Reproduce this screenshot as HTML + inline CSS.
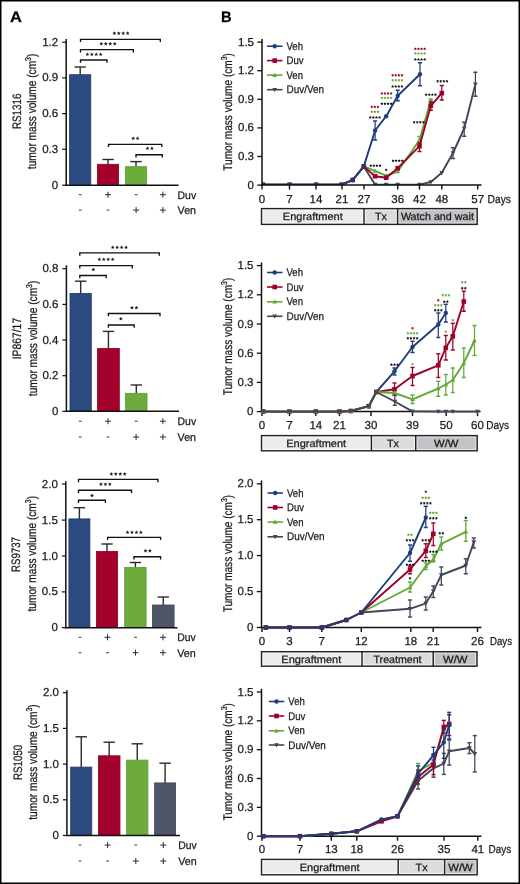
<!DOCTYPE html>
<html><head><meta charset="utf-8"><style>
html,body{margin:0;padding:0;background:#fff;}
body{width:520px;height:884px;overflow:hidden;}
svg{display:block;font-family:"Liberation Sans", sans-serif;will-change:transform;text-rendering:geometricPrecision;}
text{stroke:#1a1a1a;stroke-width:0.25px;paint-order:stroke;}
</style></head><body>
<svg width="520" height="884" viewBox="0 0 520 884">
<defs><path id="sa" d="M0.00,-2.25 L0.56,-0.97 L1.95,-0.83 L0.90,0.09 L1.20,1.46 L0.00,0.75 L-1.20,1.46 L-0.90,0.09 L-1.95,-0.83 L-0.56,-0.97 Z"/><path id="sb" d="M0.00,-1.30 L0.50,-0.39 L1.52,-0.19 L0.81,0.56 L0.94,1.59 L0.00,1.15 L-0.94,1.59 L-0.81,0.56 L-1.52,-0.19 L-0.50,-0.39 Z"/></defs>
<rect x="0" y="0" width="520" height="884" fill="#fff"/>
<text x="10.1" y="22" font-size="15.2" font-weight="bold" fill="#000" textLength="11.9" lengthAdjust="spacingAndGlyphs">A</text>
<text x="221.1" y="21.5" font-size="15.1" font-weight="bold" fill="#000" textLength="10.6" lengthAdjust="spacingAndGlyphs">B</text>
<line x1="66.2" y1="39" x2="66.2" y2="185.8" stroke="#111" stroke-width="1.5"/>
<line x1="62.2" y1="42.2" x2="66.2" y2="42.2" stroke="#111" stroke-width="1.2"/>
<text x="58.2" y="45.7" font-size="11.5" text-anchor="end" fill="#1a1a1a" font-weight="normal">1.2</text>
<line x1="62.2" y1="77.9" x2="66.2" y2="77.9" stroke="#111" stroke-width="1.2"/>
<text x="58.2" y="81.4" font-size="11.5" text-anchor="end" fill="#1a1a1a" font-weight="normal">0.9</text>
<line x1="62.2" y1="113.6" x2="66.2" y2="113.6" stroke="#111" stroke-width="1.2"/>
<text x="58.2" y="117.1" font-size="11.5" text-anchor="end" fill="#1a1a1a" font-weight="normal">0.6</text>
<line x1="62.2" y1="149.3" x2="66.2" y2="149.3" stroke="#111" stroke-width="1.2"/>
<text x="58.2" y="152.8" font-size="11.5" text-anchor="end" fill="#1a1a1a" font-weight="normal">0.3</text>
<line x1="62.2" y1="185.2" x2="66.2" y2="185.2" stroke="#111" stroke-width="1.2"/>
<text x="58.2" y="188.7" font-size="11.5" text-anchor="end" fill="#1a1a1a" font-weight="normal">0</text>
<line x1="80.2" y1="67" x2="80.2" y2="74.8" stroke="#2a2a2a" stroke-width="1.4"/>
<line x1="74.5" y1="67" x2="85.9" y2="67" stroke="#2a2a2a" stroke-width="1.4"/>
<rect x="69.6" y="74.7" width="21.2" height="110.1" fill="#2b4a80" stroke="#1f3a6a" stroke-width="0.8"/>
<line x1="108.05" y1="159.5" x2="108.05" y2="164.4" stroke="#2a2a2a" stroke-width="1.4"/>
<line x1="102.35" y1="159.5" x2="113.75" y2="159.5" stroke="#2a2a2a" stroke-width="1.4"/>
<rect x="97.5" y="164.3" width="21.1" height="20.5" fill="#a3002c" stroke="#8a0024" stroke-width="0.8"/>
<line x1="136" y1="161.6" x2="136" y2="166.8" stroke="#2a2a2a" stroke-width="1.4"/>
<line x1="130.3" y1="161.6" x2="141.7" y2="161.6" stroke="#2a2a2a" stroke-width="1.4"/>
<rect x="125.4" y="166.7" width="21.2" height="18.1" fill="#6cab3c" stroke="#5c9a30" stroke-width="0.8"/>
<line x1="65.5" y1="185.2" x2="178.5" y2="185.2" stroke="#111" stroke-width="1.4"/>
<polyline points="80.5,42.1 80.5,39.3 160.3,39.3 160.3,42.1" fill="none" stroke="#111" stroke-width="1.35"/>
<use href="#sa" x="114.33" y="33.5" fill="#1a1a1a"/>
<use href="#sa" x="118.78" y="33.5" fill="#1a1a1a"/>
<use href="#sa" x="123.23" y="33.5" fill="#1a1a1a"/>
<use href="#sa" x="127.68" y="33.5" fill="#1a1a1a"/>
<polyline points="80.5,52.4 80.5,49.6 133.3,49.6 133.3,52.4" fill="none" stroke="#111" stroke-width="1.35"/>
<use href="#sa" x="101.33" y="44" fill="#1a1a1a"/>
<use href="#sa" x="105.78" y="44" fill="#1a1a1a"/>
<use href="#sa" x="110.23" y="44" fill="#1a1a1a"/>
<use href="#sa" x="114.68" y="44" fill="#1a1a1a"/>
<polyline points="80.5,62.8 80.5,60 107,60 107,62.8" fill="none" stroke="#111" stroke-width="1.35"/>
<use href="#sa" x="87.33" y="54.6" fill="#1a1a1a"/>
<use href="#sa" x="91.78" y="54.6" fill="#1a1a1a"/>
<use href="#sa" x="96.23" y="54.6" fill="#1a1a1a"/>
<use href="#sa" x="100.68" y="54.6" fill="#1a1a1a"/>
<polyline points="108.5,147.1 108.5,144.3 161.8,144.3 161.8,147.1" fill="none" stroke="#111" stroke-width="1.35"/>
<use href="#sa" x="133.18" y="138.6" fill="#1a1a1a"/>
<use href="#sa" x="137.62" y="138.6" fill="#1a1a1a"/>
<polyline points="136,157.5 136,154.7 162.3,154.7 162.3,157.5" fill="none" stroke="#111" stroke-width="1.35"/>
<use href="#sa" x="147.47" y="148.6" fill="#1a1a1a"/>
<use href="#sa" x="151.92" y="148.6" fill="#1a1a1a"/>
<line x1="78.8" y1="194.7" x2="81.6" y2="194.7" stroke="#222" stroke-width="0.9"/>
<line x1="78.8" y1="210.1" x2="81.6" y2="210.1" stroke="#222" stroke-width="0.9"/>
<line x1="105" y1="194.7" x2="111" y2="194.7" stroke="#222" stroke-width="0.95"/>
<line x1="108" y1="191.7" x2="108" y2="197.7" stroke="#222" stroke-width="0.95"/>
<line x1="106.6" y1="210.1" x2="109.4" y2="210.1" stroke="#222" stroke-width="0.9"/>
<line x1="134.7" y1="194.7" x2="137.5" y2="194.7" stroke="#222" stroke-width="0.9"/>
<line x1="133.1" y1="210.1" x2="139.1" y2="210.1" stroke="#222" stroke-width="0.95"/>
<line x1="136.1" y1="207.1" x2="136.1" y2="213.1" stroke="#222" stroke-width="0.95"/>
<line x1="159.9" y1="194.7" x2="165.9" y2="194.7" stroke="#222" stroke-width="0.95"/>
<line x1="162.9" y1="191.7" x2="162.9" y2="197.7" stroke="#222" stroke-width="0.95"/>
<line x1="159.9" y1="210.1" x2="165.9" y2="210.1" stroke="#222" stroke-width="0.95"/>
<line x1="162.9" y1="207.1" x2="162.9" y2="213.1" stroke="#222" stroke-width="0.95"/>
<text x="177.6" y="198.7" font-size="11" text-anchor="start" fill="#1a1a1a" font-weight="normal" textLength="18.5" lengthAdjust="spacingAndGlyphs">Duv</text>
<text x="177.6" y="214.1" font-size="11" text-anchor="start" fill="#1a1a1a" font-weight="normal" textLength="18.5" lengthAdjust="spacingAndGlyphs">Ven</text>
<text transform="translate(20.8,111.3) rotate(-90)" font-size="12.2" text-anchor="middle" fill="#1a1a1a" textLength="35.5" lengthAdjust="spacingAndGlyphs">RS1316</text>
<text transform="translate(35.9,111.4) rotate(-90)" font-size="12.5" text-anchor="middle" fill="#1a1a1a" textLength="115.5" lengthAdjust="spacingAndGlyphs">tumor mass volume (cm<tspan font-size="8.6" dy="-4.6">3</tspan><tspan dy="4.6">)</tspan></text>
<line x1="66.4" y1="265.3" x2="66.4" y2="411.9" stroke="#111" stroke-width="1.5"/>
<line x1="62.4" y1="268.7" x2="66.4" y2="268.7" stroke="#111" stroke-width="1.2"/>
<text x="58.4" y="272.2" font-size="11.5" text-anchor="end" fill="#1a1a1a" font-weight="normal">0.8</text>
<line x1="62.4" y1="304.4" x2="66.4" y2="304.4" stroke="#111" stroke-width="1.2"/>
<text x="58.4" y="307.9" font-size="11.5" text-anchor="end" fill="#1a1a1a" font-weight="normal">0.6</text>
<line x1="62.4" y1="340" x2="66.4" y2="340" stroke="#111" stroke-width="1.2"/>
<text x="58.4" y="343.5" font-size="11.5" text-anchor="end" fill="#1a1a1a" font-weight="normal">0.4</text>
<line x1="62.4" y1="375.7" x2="66.4" y2="375.7" stroke="#111" stroke-width="1.2"/>
<text x="58.4" y="379.2" font-size="11.5" text-anchor="end" fill="#1a1a1a" font-weight="normal">0.2</text>
<line x1="62.4" y1="411.3" x2="66.4" y2="411.3" stroke="#111" stroke-width="1.2"/>
<text x="58.4" y="414.8" font-size="11.5" text-anchor="end" fill="#1a1a1a" font-weight="normal">0</text>
<line x1="80.65" y1="281.2" x2="80.65" y2="293.5" stroke="#2a2a2a" stroke-width="1.4"/>
<line x1="74.95" y1="281.2" x2="86.35" y2="281.2" stroke="#2a2a2a" stroke-width="1.4"/>
<rect x="70" y="293.4" width="21.3" height="117.5" fill="#2b4a80" stroke="#1f3a6a" stroke-width="0.8"/>
<line x1="108.45" y1="331.4" x2="108.45" y2="348.5" stroke="#2a2a2a" stroke-width="1.4"/>
<line x1="102.75" y1="331.4" x2="114.15" y2="331.4" stroke="#2a2a2a" stroke-width="1.4"/>
<rect x="97.6" y="348.4" width="21.7" height="62.5" fill="#a3002c" stroke="#8a0024" stroke-width="0.8"/>
<line x1="136.3" y1="385" x2="136.3" y2="393.4" stroke="#2a2a2a" stroke-width="1.4"/>
<line x1="130.6" y1="385" x2="142" y2="385" stroke="#2a2a2a" stroke-width="1.4"/>
<rect x="125.6" y="393.3" width="21.4" height="17.6" fill="#6cab3c" stroke="#5c9a30" stroke-width="0.8"/>
<line x1="65.7" y1="411.3" x2="179" y2="411.3" stroke="#111" stroke-width="1.4"/>
<polyline points="79.8,255.7 79.8,252.9 159.3,252.9 159.3,255.7" fill="none" stroke="#111" stroke-width="1.35"/>
<use href="#sa" x="112.73" y="247.6" fill="#1a1a1a"/>
<use href="#sa" x="117.18" y="247.6" fill="#1a1a1a"/>
<use href="#sa" x="121.63" y="247.6" fill="#1a1a1a"/>
<use href="#sa" x="126.08" y="247.6" fill="#1a1a1a"/>
<polyline points="79.8,268.4 79.8,265.6 132.3,265.6 132.3,268.4" fill="none" stroke="#111" stroke-width="1.35"/>
<use href="#sa" x="99.33" y="259.6" fill="#1a1a1a"/>
<use href="#sa" x="103.78" y="259.6" fill="#1a1a1a"/>
<use href="#sa" x="108.23" y="259.6" fill="#1a1a1a"/>
<use href="#sa" x="112.68" y="259.6" fill="#1a1a1a"/>
<polyline points="79.8,278.3 79.8,275.5 106.2,275.5 106.2,278.3" fill="none" stroke="#111" stroke-width="1.35"/>
<use href="#sa" x="93.3" y="269.8" fill="#1a1a1a"/>
<polyline points="108.4,316.3 108.4,313.5 160,313.5 160,316.3" fill="none" stroke="#111" stroke-width="1.35"/>
<use href="#sa" x="131.97" y="307.9" fill="#1a1a1a"/>
<use href="#sa" x="136.42" y="307.9" fill="#1a1a1a"/>
<polyline points="108.4,327.8 108.4,325 134.2,325 134.2,327.8" fill="none" stroke="#111" stroke-width="1.35"/>
<use href="#sa" x="120.8" y="319" fill="#1a1a1a"/>
<line x1="78.8" y1="421.2" x2="81.6" y2="421.2" stroke="#222" stroke-width="0.9"/>
<line x1="78.8" y1="437" x2="81.6" y2="437" stroke="#222" stroke-width="0.9"/>
<line x1="105" y1="421.2" x2="111" y2="421.2" stroke="#222" stroke-width="0.95"/>
<line x1="108" y1="418.2" x2="108" y2="424.2" stroke="#222" stroke-width="0.95"/>
<line x1="106.6" y1="437" x2="109.4" y2="437" stroke="#222" stroke-width="0.9"/>
<line x1="134.7" y1="421.2" x2="137.5" y2="421.2" stroke="#222" stroke-width="0.9"/>
<line x1="133.1" y1="437" x2="139.1" y2="437" stroke="#222" stroke-width="0.95"/>
<line x1="136.1" y1="434" x2="136.1" y2="440" stroke="#222" stroke-width="0.95"/>
<line x1="159.9" y1="421.2" x2="165.9" y2="421.2" stroke="#222" stroke-width="0.95"/>
<line x1="162.9" y1="418.2" x2="162.9" y2="424.2" stroke="#222" stroke-width="0.95"/>
<line x1="159.9" y1="437" x2="165.9" y2="437" stroke="#222" stroke-width="0.95"/>
<line x1="162.9" y1="434" x2="162.9" y2="440" stroke="#222" stroke-width="0.95"/>
<text x="177.6" y="425.2" font-size="11" text-anchor="start" fill="#1a1a1a" font-weight="normal" textLength="18.5" lengthAdjust="spacingAndGlyphs">Duv</text>
<text x="177.6" y="441" font-size="11" text-anchor="start" fill="#1a1a1a" font-weight="normal" textLength="18.5" lengthAdjust="spacingAndGlyphs">Ven</text>
<text transform="translate(21,338.6) rotate(-90)" font-size="12.2" text-anchor="middle" fill="#1a1a1a" textLength="41.5" lengthAdjust="spacingAndGlyphs">IP867/17</text>
<text transform="translate(36.5,338.4) rotate(-90)" font-size="12.5" text-anchor="middle" fill="#1a1a1a" textLength="115.5" lengthAdjust="spacingAndGlyphs">tumor mass volume (cm<tspan font-size="8.6" dy="-4.6">3</tspan><tspan dy="4.6">)</tspan></text>
<line x1="65.8" y1="481.2" x2="65.8" y2="628.3" stroke="#111" stroke-width="1.5"/>
<line x1="61.8" y1="484" x2="65.8" y2="484" stroke="#111" stroke-width="1.2"/>
<text x="57.8" y="487.5" font-size="11.5" text-anchor="end" fill="#1a1a1a" font-weight="normal">2.0</text>
<line x1="61.8" y1="520.1" x2="65.8" y2="520.1" stroke="#111" stroke-width="1.2"/>
<text x="57.8" y="523.6" font-size="11.5" text-anchor="end" fill="#1a1a1a" font-weight="normal">1.5</text>
<line x1="61.8" y1="556" x2="65.8" y2="556" stroke="#111" stroke-width="1.2"/>
<text x="57.8" y="559.5" font-size="11.5" text-anchor="end" fill="#1a1a1a" font-weight="normal">1.0</text>
<line x1="61.8" y1="591.9" x2="65.8" y2="591.9" stroke="#111" stroke-width="1.2"/>
<text x="57.8" y="595.4" font-size="11.5" text-anchor="end" fill="#1a1a1a" font-weight="normal">0.5</text>
<line x1="61.8" y1="627.7" x2="65.8" y2="627.7" stroke="#111" stroke-width="1.2"/>
<text x="57.8" y="631.2" font-size="11.5" text-anchor="end" fill="#1a1a1a" font-weight="normal">0</text>
<line x1="79.4" y1="507.7" x2="79.4" y2="519" stroke="#2a2a2a" stroke-width="1.4"/>
<line x1="73.7" y1="507.7" x2="85.1" y2="507.7" stroke="#2a2a2a" stroke-width="1.4"/>
<rect x="68.9" y="518.9" width="21" height="108.4" fill="#2b4a80" stroke="#1f3a6a" stroke-width="0.8"/>
<line x1="107" y1="544" x2="107" y2="551.5" stroke="#2a2a2a" stroke-width="1.4"/>
<line x1="101.3" y1="544" x2="112.7" y2="544" stroke="#2a2a2a" stroke-width="1.4"/>
<rect x="96.4" y="551.4" width="21.2" height="75.9" fill="#a3002c" stroke="#8a0024" stroke-width="0.8"/>
<line x1="135.4" y1="562.5" x2="135.4" y2="567.5" stroke="#2a2a2a" stroke-width="1.4"/>
<line x1="129.7" y1="562.5" x2="141.1" y2="562.5" stroke="#2a2a2a" stroke-width="1.4"/>
<rect x="124.7" y="567.4" width="21.4" height="59.9" fill="#6cab3c" stroke="#5c9a30" stroke-width="0.8"/>
<line x1="163.25" y1="597" x2="163.25" y2="605.1" stroke="#2a2a2a" stroke-width="1.4"/>
<line x1="157.55" y1="597" x2="168.95" y2="597" stroke="#2a2a2a" stroke-width="1.4"/>
<rect x="152.4" y="605" width="21.7" height="22.3" fill="#4f5668" stroke="#40475a" stroke-width="0.8"/>
<line x1="65.1" y1="627.7" x2="177.5" y2="627.7" stroke="#111" stroke-width="1.4"/>
<polyline points="78.5,482.2 78.5,479.4 157.9,479.4 157.9,482.2" fill="none" stroke="#111" stroke-width="1.35"/>
<use href="#sa" x="111.33" y="474.2" fill="#1a1a1a"/>
<use href="#sa" x="115.78" y="474.2" fill="#1a1a1a"/>
<use href="#sa" x="120.23" y="474.2" fill="#1a1a1a"/>
<use href="#sa" x="124.68" y="474.2" fill="#1a1a1a"/>
<polyline points="78.5,493 78.5,490.2 131.5,490.2 131.5,493" fill="none" stroke="#111" stroke-width="1.35"/>
<use href="#sa" x="100.95" y="484.4" fill="#1a1a1a"/>
<use href="#sa" x="105.4" y="484.4" fill="#1a1a1a"/>
<use href="#sa" x="109.85" y="484.4" fill="#1a1a1a"/>
<polyline points="78.5,503 78.5,500.2 105.4,500.2 105.4,503" fill="none" stroke="#111" stroke-width="1.35"/>
<use href="#sa" x="92" y="495.8" fill="#1a1a1a"/>
<polyline points="107.6,540.1 107.6,537.3 160.6,537.3 160.6,540.1" fill="none" stroke="#111" stroke-width="1.35"/>
<use href="#sa" x="127.52" y="532.6" fill="#1a1a1a"/>
<use href="#sa" x="131.97" y="532.6" fill="#1a1a1a"/>
<use href="#sa" x="136.42" y="532.6" fill="#1a1a1a"/>
<use href="#sa" x="140.88" y="532.6" fill="#1a1a1a"/>
<polyline points="134,559.5 134,556.7 160.6,556.7 160.6,559.5" fill="none" stroke="#111" stroke-width="1.35"/>
<use href="#sa" x="145.47" y="551" fill="#1a1a1a"/>
<use href="#sa" x="149.92" y="551" fill="#1a1a1a"/>
<line x1="78.6" y1="637.3" x2="81.4" y2="637.3" stroke="#222" stroke-width="0.9"/>
<line x1="78.6" y1="652.7" x2="81.4" y2="652.7" stroke="#222" stroke-width="0.9"/>
<line x1="104.5" y1="637.3" x2="110.5" y2="637.3" stroke="#222" stroke-width="0.95"/>
<line x1="107.5" y1="634.3" x2="107.5" y2="640.3" stroke="#222" stroke-width="0.95"/>
<line x1="106.1" y1="652.7" x2="108.9" y2="652.7" stroke="#222" stroke-width="0.9"/>
<line x1="134.1" y1="637.3" x2="136.9" y2="637.3" stroke="#222" stroke-width="0.9"/>
<line x1="132.5" y1="652.7" x2="138.5" y2="652.7" stroke="#222" stroke-width="0.95"/>
<line x1="135.5" y1="649.7" x2="135.5" y2="655.7" stroke="#222" stroke-width="0.95"/>
<line x1="160" y1="637.3" x2="166" y2="637.3" stroke="#222" stroke-width="0.95"/>
<line x1="163" y1="634.3" x2="163" y2="640.3" stroke="#222" stroke-width="0.95"/>
<line x1="160" y1="652.7" x2="166" y2="652.7" stroke="#222" stroke-width="0.95"/>
<line x1="163" y1="649.7" x2="163" y2="655.7" stroke="#222" stroke-width="0.95"/>
<text x="177.3" y="641.3" font-size="11" text-anchor="start" fill="#1a1a1a" font-weight="normal" textLength="18.5" lengthAdjust="spacingAndGlyphs">Duv</text>
<text x="177.3" y="656.7" font-size="11" text-anchor="start" fill="#1a1a1a" font-weight="normal" textLength="18.5" lengthAdjust="spacingAndGlyphs">Ven</text>
<text transform="translate(20.3,554.5) rotate(-90)" font-size="12.2" text-anchor="middle" fill="#1a1a1a" textLength="34.8" lengthAdjust="spacingAndGlyphs">RS9737</text>
<text transform="translate(35.7,553.7) rotate(-90)" font-size="12.5" text-anchor="middle" fill="#1a1a1a" textLength="115.5" lengthAdjust="spacingAndGlyphs">tumor mass volume (cm<tspan font-size="8.6" dy="-4.6">3</tspan><tspan dy="4.6">)</tspan></text>
<line x1="66.9" y1="690.2" x2="66.9" y2="836.1" stroke="#111" stroke-width="1.5"/>
<line x1="62.9" y1="692.7" x2="66.9" y2="692.7" stroke="#111" stroke-width="1.2"/>
<text x="58.9" y="696.2" font-size="11.5" text-anchor="end" fill="#1a1a1a" font-weight="normal">2.0</text>
<line x1="62.9" y1="728.4" x2="66.9" y2="728.4" stroke="#111" stroke-width="1.2"/>
<text x="58.9" y="731.9" font-size="11.5" text-anchor="end" fill="#1a1a1a" font-weight="normal">1.5</text>
<line x1="62.9" y1="764.1" x2="66.9" y2="764.1" stroke="#111" stroke-width="1.2"/>
<text x="58.9" y="767.6" font-size="11.5" text-anchor="end" fill="#1a1a1a" font-weight="normal">1.0</text>
<line x1="62.9" y1="799.8" x2="66.9" y2="799.8" stroke="#111" stroke-width="1.2"/>
<text x="58.9" y="803.3" font-size="11.5" text-anchor="end" fill="#1a1a1a" font-weight="normal">0.5</text>
<line x1="62.9" y1="835.5" x2="66.9" y2="835.5" stroke="#111" stroke-width="1.2"/>
<text x="58.9" y="839" font-size="11.5" text-anchor="end" fill="#1a1a1a" font-weight="normal">0</text>
<line x1="81.25" y1="736.8" x2="81.25" y2="767.2" stroke="#2a2a2a" stroke-width="1.4"/>
<line x1="75.55" y1="736.8" x2="86.95" y2="736.8" stroke="#2a2a2a" stroke-width="1.4"/>
<rect x="70.7" y="767.1" width="21.1" height="68" fill="#2b4a80" stroke="#1f3a6a" stroke-width="0.8"/>
<line x1="109.2" y1="742.2" x2="109.2" y2="755.9" stroke="#2a2a2a" stroke-width="1.4"/>
<line x1="103.5" y1="742.2" x2="114.9" y2="742.2" stroke="#2a2a2a" stroke-width="1.4"/>
<rect x="98.4" y="755.8" width="21.6" height="79.3" fill="#a3002c" stroke="#8a0024" stroke-width="0.8"/>
<line x1="137.25" y1="743.8" x2="137.25" y2="760.2" stroke="#2a2a2a" stroke-width="1.4"/>
<line x1="131.55" y1="743.8" x2="142.95" y2="743.8" stroke="#2a2a2a" stroke-width="1.4"/>
<rect x="126.6" y="760.1" width="21.3" height="75" fill="#6cab3c" stroke="#5c9a30" stroke-width="0.8"/>
<line x1="165.1" y1="763.2" x2="165.1" y2="783" stroke="#2a2a2a" stroke-width="1.4"/>
<line x1="159.4" y1="763.2" x2="170.8" y2="763.2" stroke="#2a2a2a" stroke-width="1.4"/>
<rect x="154.6" y="782.9" width="21" height="52.2" fill="#4f5668" stroke="#40475a" stroke-width="0.8"/>
<line x1="66.2" y1="835.5" x2="180" y2="835.5" stroke="#111" stroke-width="1.4"/>
<line x1="78.6" y1="845.1" x2="81.4" y2="845.1" stroke="#222" stroke-width="0.9"/>
<line x1="78.6" y1="861" x2="81.4" y2="861" stroke="#222" stroke-width="0.9"/>
<line x1="104.6" y1="845.1" x2="110.6" y2="845.1" stroke="#222" stroke-width="0.95"/>
<line x1="107.6" y1="842.1" x2="107.6" y2="848.1" stroke="#222" stroke-width="0.95"/>
<line x1="106.2" y1="861" x2="109" y2="861" stroke="#222" stroke-width="0.9"/>
<line x1="134.4" y1="845.1" x2="137.2" y2="845.1" stroke="#222" stroke-width="0.9"/>
<line x1="132.8" y1="861" x2="138.8" y2="861" stroke="#222" stroke-width="0.95"/>
<line x1="135.8" y1="858" x2="135.8" y2="864" stroke="#222" stroke-width="0.95"/>
<line x1="160.3" y1="845.1" x2="166.3" y2="845.1" stroke="#222" stroke-width="0.95"/>
<line x1="163.3" y1="842.1" x2="163.3" y2="848.1" stroke="#222" stroke-width="0.95"/>
<line x1="160.3" y1="861" x2="166.3" y2="861" stroke="#222" stroke-width="0.95"/>
<line x1="163.3" y1="858" x2="163.3" y2="864" stroke="#222" stroke-width="0.95"/>
<text x="178.2" y="849.1" font-size="11" text-anchor="start" fill="#1a1a1a" font-weight="normal" textLength="18.5" lengthAdjust="spacingAndGlyphs">Duv</text>
<text x="178.2" y="865" font-size="11" text-anchor="start" fill="#1a1a1a" font-weight="normal" textLength="18.5" lengthAdjust="spacingAndGlyphs">Ven</text>
<text transform="translate(21.6,762.4) rotate(-90)" font-size="12.2" text-anchor="middle" fill="#1a1a1a" textLength="35.3" lengthAdjust="spacingAndGlyphs">RS1050</text>
<text transform="translate(37,762) rotate(-90)" font-size="12.5" text-anchor="middle" fill="#1a1a1a" textLength="115.5" lengthAdjust="spacingAndGlyphs">tumor mass volume (cm<tspan font-size="8.6" dy="-4.6">3</tspan><tspan dy="4.6">)</tspan></text>
<line x1="257.3" y1="42.1" x2="262" y2="42.1" stroke="#111" stroke-width="1.3"/>
<text x="254" y="45.6" font-size="11.5" text-anchor="end" fill="#1a1a1a" font-weight="normal">1.5</text>
<line x1="257.3" y1="70.7" x2="262" y2="70.7" stroke="#111" stroke-width="1.3"/>
<text x="254" y="74.2" font-size="11.5" text-anchor="end" fill="#1a1a1a" font-weight="normal">1.2</text>
<line x1="257.3" y1="99.3" x2="262" y2="99.3" stroke="#111" stroke-width="1.3"/>
<text x="254" y="102.8" font-size="11.5" text-anchor="end" fill="#1a1a1a" font-weight="normal">0.9</text>
<line x1="257.3" y1="127.9" x2="262" y2="127.9" stroke="#111" stroke-width="1.3"/>
<text x="254" y="131.4" font-size="11.5" text-anchor="end" fill="#1a1a1a" font-weight="normal">0.6</text>
<line x1="257.3" y1="156.5" x2="262" y2="156.5" stroke="#111" stroke-width="1.3"/>
<text x="254" y="160" font-size="11.5" text-anchor="end" fill="#1a1a1a" font-weight="normal">0.3</text>
<line x1="257.3" y1="185.1" x2="262" y2="185.1" stroke="#111" stroke-width="1.3"/>
<text x="254" y="188.6" font-size="11.5" text-anchor="end" fill="#1a1a1a" font-weight="normal">0</text>
<line x1="262" y1="185.1" x2="262" y2="189.6" stroke="#111" stroke-width="1.4"/>
<text x="262" y="202.9" font-size="11.5" text-anchor="middle" fill="#1a1a1a" font-weight="normal">0</text>
<line x1="289.5" y1="185.1" x2="289.5" y2="189.6" stroke="#111" stroke-width="1.4"/>
<text x="289.5" y="202.9" font-size="11.5" text-anchor="middle" fill="#1a1a1a" font-weight="normal">7</text>
<line x1="316" y1="185.1" x2="316" y2="189.6" stroke="#111" stroke-width="1.4"/>
<text x="316" y="202.9" font-size="11.5" text-anchor="middle" fill="#1a1a1a" font-weight="normal">14</text>
<line x1="342" y1="185.1" x2="342" y2="189.6" stroke="#111" stroke-width="1.4"/>
<text x="342" y="202.9" font-size="11.5" text-anchor="middle" fill="#1a1a1a" font-weight="normal">21</text>
<line x1="364" y1="185.1" x2="364" y2="189.6" stroke="#111" stroke-width="1.4"/>
<text x="364" y="202.9" font-size="11.5" text-anchor="middle" fill="#1a1a1a" font-weight="normal">27</text>
<line x1="397.7" y1="185.1" x2="397.7" y2="189.6" stroke="#111" stroke-width="1.4"/>
<text x="397.7" y="202.9" font-size="11.5" text-anchor="middle" fill="#1a1a1a" font-weight="normal">36</text>
<line x1="419.5" y1="185.1" x2="419.5" y2="189.6" stroke="#111" stroke-width="1.4"/>
<text x="419.5" y="202.9" font-size="11.5" text-anchor="middle" fill="#1a1a1a" font-weight="normal">42</text>
<line x1="441.8" y1="185.1" x2="441.8" y2="189.6" stroke="#111" stroke-width="1.4"/>
<text x="441.8" y="202.9" font-size="11.5" text-anchor="middle" fill="#1a1a1a" font-weight="normal">48</text>
<line x1="477.7" y1="185.1" x2="477.7" y2="189.6" stroke="#111" stroke-width="1.4"/>
<text x="477.7" y="202.9" font-size="11.5" text-anchor="middle" fill="#1a1a1a" font-weight="normal">57</text>
<text x="487.6" y="202.9" font-size="11.5" text-anchor="start" fill="#1a1a1a" font-weight="normal" textLength="23.3" lengthAdjust="spacingAndGlyphs">Days</text>
<text transform="translate(231.9,111.9) rotate(-90)" font-size="12.5" text-anchor="middle" fill="#1a1a1a" textLength="117.5" lengthAdjust="spacingAndGlyphs">Tumor mass volume (cm<tspan font-size="8.6" dy="-4.6">3</tspan><tspan dy="4.6">)</tspan></text>
<line x1="267" y1="46.2" x2="282.5" y2="46.2" stroke="#1f3d7a" stroke-width="1.6"/>
<circle cx="274.7" cy="46.2" r="2.2" fill="#1f3d7a"/>
<text x="286.5" y="49.8" font-size="11" text-anchor="start" fill="#1a1a1a" font-weight="normal" textLength="16.5" lengthAdjust="spacingAndGlyphs">Veh</text>
<line x1="267" y1="60.6" x2="282.5" y2="60.6" stroke="#9e0029" stroke-width="1.6"/>
<rect x="272.4" y="58.3" width="4.6" height="4.6" fill="#9e0029"/>
<text x="286.5" y="64.2" font-size="11" text-anchor="start" fill="#1a1a1a" font-weight="normal" textLength="17" lengthAdjust="spacingAndGlyphs">Duv</text>
<line x1="267" y1="75.1" x2="282.5" y2="75.1" stroke="#62a936" stroke-width="1.6"/>
<polygon points="274.7,72.7 272.3,76.9 277.1,76.9" fill="#62a936"/>
<text x="286.5" y="78.7" font-size="11" text-anchor="start" fill="#1a1a1a" font-weight="normal" textLength="16.5" lengthAdjust="spacingAndGlyphs">Ven</text>
<line x1="267" y1="89.7" x2="282.5" y2="89.7" stroke="#404759" stroke-width="1.6"/>
<polygon points="274.7,92.1 272.3,87.9 277.1,87.9" fill="#404759"/>
<text x="286.5" y="93.3" font-size="11" text-anchor="start" fill="#1a1a1a" font-weight="normal" textLength="37.5" lengthAdjust="spacingAndGlyphs">Duv/Ven</text>
<clipPath id="c185"><rect x="262" y="0" width="229.5" height="185.1"/></clipPath>
<g clip-path="url(#c185)">
<line x1="453" y1="147.7" x2="453" y2="158.5" stroke="#404759" stroke-width="1.25"/>
<line x1="450.95" y1="147.7" x2="455.05" y2="147.7" stroke="#404759" stroke-width="1.45"/>
<line x1="450.95" y1="158.5" x2="455.05" y2="158.5" stroke="#404759" stroke-width="1.45"/>
<line x1="464.2" y1="122.3" x2="464.2" y2="136.2" stroke="#404759" stroke-width="1.25"/>
<line x1="462.15" y1="122.3" x2="466.25" y2="122.3" stroke="#404759" stroke-width="1.45"/>
<line x1="462.15" y1="136.2" x2="466.25" y2="136.2" stroke="#404759" stroke-width="1.45"/>
<line x1="475.4" y1="72.3" x2="475.4" y2="96.2" stroke="#404759" stroke-width="1.25"/>
<line x1="473.35" y1="72.3" x2="477.45" y2="72.3" stroke="#404759" stroke-width="1.45"/>
<line x1="473.35" y1="96.2" x2="477.45" y2="96.2" stroke="#404759" stroke-width="1.45"/>
<polyline points="263,184.7 289.6,184.7 316.2,184.7 341.6,184.7 352.7,180 363.8,166.4 375.1,184.6 386.2,184.6 397.7,184.6 419.5,184.6 430.8,182 441.8,172.8 453,153 464.2,128.5 475.4,84.2" fill="none" stroke="#404759" stroke-width="1.9" stroke-linejoin="round"/>
<polygon points="263,187.1 260.6,182.9 265.4,182.9" fill="#404759"/>
<polygon points="289.6,187.1 287.2,182.9 292,182.9" fill="#404759"/>
<polygon points="316.2,187.1 313.8,182.9 318.6,182.9" fill="#404759"/>
<polygon points="341.6,187.1 339.2,182.9 344,182.9" fill="#404759"/>
<polygon points="352.7,182.4 350.3,178.2 355.1,178.2" fill="#404759"/>
<polygon points="363.8,168.8 361.4,164.6 366.2,164.6" fill="#404759"/>
<polygon points="375.1,187 372.7,182.8 377.5,182.8" fill="#404759"/>
<polygon points="386.2,187 383.8,182.8 388.6,182.8" fill="#404759"/>
<polygon points="397.7,187 395.3,182.8 400.1,182.8" fill="#404759"/>
<polygon points="419.5,187 417.1,182.8 421.9,182.8" fill="#404759"/>
<polygon points="430.8,184.4 428.4,180.2 433.2,180.2" fill="#404759"/>
<polygon points="441.8,175.2 439.4,171 444.2,171" fill="#404759"/>
<polygon points="453,155.4 450.6,151.2 455.4,151.2" fill="#404759"/>
<polygon points="464.2,130.9 461.8,126.7 466.6,126.7" fill="#404759"/>
<polygon points="475.4,86.6 473,82.4 477.8,82.4" fill="#404759"/>
<line x1="419.5" y1="136.5" x2="419.5" y2="143" stroke="#62a936" stroke-width="1.25"/>
<line x1="417.45" y1="136.5" x2="421.55" y2="136.5" stroke="#62a936" stroke-width="1.45"/>
<line x1="417.45" y1="143" x2="421.55" y2="143" stroke="#62a936" stroke-width="1.45"/>
<line x1="430.8" y1="99.2" x2="430.8" y2="103" stroke="#62a936" stroke-width="1.25"/>
<line x1="428.75" y1="99.2" x2="432.85" y2="99.2" stroke="#62a936" stroke-width="1.45"/>
<line x1="428.75" y1="103" x2="432.85" y2="103" stroke="#62a936" stroke-width="1.45"/>
<polyline points="263,184.7 289.6,184.7 316.2,184.7 341.6,184.7 352.7,180 363.8,166.4 375.1,171 386.2,175.7 397.7,171.5 419.5,140 430.8,100" fill="none" stroke="#62a936" stroke-width="1.9" stroke-linejoin="round"/>
<polygon points="263,182.3 260.6,186.5 265.4,186.5" fill="#62a936"/>
<polygon points="289.6,182.3 287.2,186.5 292,186.5" fill="#62a936"/>
<polygon points="316.2,182.3 313.8,186.5 318.6,186.5" fill="#62a936"/>
<polygon points="341.6,182.3 339.2,186.5 344,186.5" fill="#62a936"/>
<polygon points="352.7,177.6 350.3,181.8 355.1,181.8" fill="#62a936"/>
<polygon points="363.8,164 361.4,168.2 366.2,168.2" fill="#62a936"/>
<polygon points="375.1,168.6 372.7,172.8 377.5,172.8" fill="#62a936"/>
<polygon points="386.2,173.3 383.8,177.5 388.6,177.5" fill="#62a936"/>
<polygon points="397.7,169.1 395.3,173.3 400.1,173.3" fill="#62a936"/>
<polygon points="419.5,137.6 417.1,141.8 421.9,141.8" fill="#62a936"/>
<polygon points="430.8,97.6 428.4,101.8 433.2,101.8" fill="#62a936"/>
<line x1="419.5" y1="143" x2="419.5" y2="151.5" stroke="#9e0029" stroke-width="1.25"/>
<line x1="417.45" y1="143" x2="421.55" y2="143" stroke="#9e0029" stroke-width="1.45"/>
<line x1="417.45" y1="151.5" x2="421.55" y2="151.5" stroke="#9e0029" stroke-width="1.45"/>
<line x1="430.8" y1="102" x2="430.8" y2="110.3" stroke="#9e0029" stroke-width="1.25"/>
<line x1="428.75" y1="102" x2="432.85" y2="102" stroke="#9e0029" stroke-width="1.45"/>
<line x1="428.75" y1="110.3" x2="432.85" y2="110.3" stroke="#9e0029" stroke-width="1.45"/>
<line x1="441.8" y1="85.4" x2="441.8" y2="100" stroke="#9e0029" stroke-width="1.25"/>
<line x1="439.75" y1="85.4" x2="443.85" y2="85.4" stroke="#9e0029" stroke-width="1.45"/>
<line x1="439.75" y1="100" x2="443.85" y2="100" stroke="#9e0029" stroke-width="1.45"/>
<polyline points="263,184.7 289.6,184.7 316.2,184.7 341.6,184.7 352.7,180 363.8,166.4 375.1,176.2 386.2,177.7 397.7,168.2 419.5,146.2 430.8,105.8 441.8,93.1" fill="none" stroke="#9e0029" stroke-width="1.9" stroke-linejoin="round"/>
<rect x="260.7" y="182.4" width="4.6" height="4.6" fill="#9e0029"/>
<rect x="287.3" y="182.4" width="4.6" height="4.6" fill="#9e0029"/>
<rect x="313.9" y="182.4" width="4.6" height="4.6" fill="#9e0029"/>
<rect x="339.3" y="182.4" width="4.6" height="4.6" fill="#9e0029"/>
<rect x="350.4" y="177.7" width="4.6" height="4.6" fill="#9e0029"/>
<rect x="361.5" y="164.1" width="4.6" height="4.6" fill="#9e0029"/>
<rect x="372.8" y="173.9" width="4.6" height="4.6" fill="#9e0029"/>
<rect x="383.9" y="175.4" width="4.6" height="4.6" fill="#9e0029"/>
<rect x="395.4" y="165.9" width="4.6" height="4.6" fill="#9e0029"/>
<rect x="417.2" y="143.9" width="4.6" height="4.6" fill="#9e0029"/>
<rect x="428.5" y="103.5" width="4.6" height="4.6" fill="#9e0029"/>
<rect x="439.5" y="90.8" width="4.6" height="4.6" fill="#9e0029"/>
<line x1="375.1" y1="121" x2="375.1" y2="140" stroke="#1f3d7a" stroke-width="1.25"/>
<line x1="373.05" y1="121" x2="377.15" y2="121" stroke="#1f3d7a" stroke-width="1.45"/>
<line x1="373.05" y1="140" x2="377.15" y2="140" stroke="#1f3d7a" stroke-width="1.45"/>
<line x1="397.7" y1="90.3" x2="397.7" y2="100.8" stroke="#1f3d7a" stroke-width="1.25"/>
<line x1="395.65" y1="90.3" x2="399.75" y2="90.3" stroke="#1f3d7a" stroke-width="1.45"/>
<line x1="395.65" y1="100.8" x2="399.75" y2="100.8" stroke="#1f3d7a" stroke-width="1.45"/>
<line x1="420" y1="62.7" x2="420" y2="85.7" stroke="#1f3d7a" stroke-width="1.25"/>
<line x1="417.95" y1="62.7" x2="422.05" y2="62.7" stroke="#1f3d7a" stroke-width="1.45"/>
<line x1="417.95" y1="85.7" x2="422.05" y2="85.7" stroke="#1f3d7a" stroke-width="1.45"/>
<polyline points="263,184.7 289.6,184.7 316.2,184.7 341.6,184.7 352.7,180 363.8,166.4 375.1,130.5 386.2,116.2 397.7,95.7 420,74.3" fill="none" stroke="#1f3d7a" stroke-width="1.9" stroke-linejoin="round"/>
<circle cx="263" cy="184.7" r="2.2" fill="#1f3d7a"/>
<circle cx="289.6" cy="184.7" r="2.2" fill="#1f3d7a"/>
<circle cx="316.2" cy="184.7" r="2.2" fill="#1f3d7a"/>
<circle cx="341.6" cy="184.7" r="2.2" fill="#1f3d7a"/>
<circle cx="352.7" cy="180" r="2.2" fill="#1f3d7a"/>
<circle cx="363.8" cy="166.4" r="2.2" fill="#1f3d7a"/>
<circle cx="375.1" cy="130.5" r="2.2" fill="#1f3d7a"/>
<circle cx="386.2" cy="116.2" r="2.2" fill="#1f3d7a"/>
<circle cx="397.7" cy="95.7" r="2.2" fill="#1f3d7a"/>
<circle cx="420" cy="74.3" r="2.2" fill="#1f3d7a"/>
</g>
<line x1="262" y1="39" x2="262" y2="185.7" stroke="#111" stroke-width="1.5"/>
<line x1="261.3" y1="185.1" x2="481.5" y2="185.1" stroke="#111" stroke-width="1.5"/>
<use href="#sb" x="371.8" y="106.6" fill="#9e0029"/>
<use href="#sb" x="374.9" y="106.6" fill="#9e0029"/>
<use href="#sb" x="378" y="106.6" fill="#9e0029"/>
<use href="#sb" x="371.8" y="111.5" fill="#62a936"/>
<use href="#sb" x="374.9" y="111.5" fill="#62a936"/>
<use href="#sb" x="378" y="111.5" fill="#62a936"/>
<use href="#sb" x="370.25" y="117.2" fill="#151515"/>
<use href="#sb" x="373.35" y="117.2" fill="#151515"/>
<use href="#sb" x="376.45" y="117.2" fill="#151515"/>
<use href="#sb" x="379.55" y="117.2" fill="#151515"/>
<use href="#sb" x="381.85" y="93.1" fill="#9e0029"/>
<use href="#sb" x="384.95" y="93.1" fill="#9e0029"/>
<use href="#sb" x="388.05" y="93.1" fill="#9e0029"/>
<use href="#sb" x="391.15" y="93.1" fill="#9e0029"/>
<use href="#sb" x="381.85" y="97.7" fill="#62a936"/>
<use href="#sb" x="384.95" y="97.7" fill="#62a936"/>
<use href="#sb" x="388.05" y="97.7" fill="#62a936"/>
<use href="#sb" x="391.15" y="97.7" fill="#62a936"/>
<use href="#sb" x="381.85" y="103.5" fill="#151515"/>
<use href="#sb" x="384.95" y="103.5" fill="#151515"/>
<use href="#sb" x="388.05" y="103.5" fill="#151515"/>
<use href="#sb" x="391.15" y="103.5" fill="#151515"/>
<use href="#sb" x="392.65" y="75" fill="#9e0029"/>
<use href="#sb" x="395.75" y="75" fill="#9e0029"/>
<use href="#sb" x="398.85" y="75" fill="#9e0029"/>
<use href="#sb" x="401.95" y="75" fill="#9e0029"/>
<use href="#sb" x="392.65" y="80" fill="#62a936"/>
<use href="#sb" x="395.75" y="80" fill="#62a936"/>
<use href="#sb" x="398.85" y="80" fill="#62a936"/>
<use href="#sb" x="401.95" y="80" fill="#62a936"/>
<use href="#sb" x="392.65" y="86.2" fill="#151515"/>
<use href="#sb" x="395.75" y="86.2" fill="#151515"/>
<use href="#sb" x="398.85" y="86.2" fill="#151515"/>
<use href="#sb" x="401.95" y="86.2" fill="#151515"/>
<use href="#sb" x="415.35" y="48.6" fill="#9e0029"/>
<use href="#sb" x="418.45" y="48.6" fill="#9e0029"/>
<use href="#sb" x="421.55" y="48.6" fill="#9e0029"/>
<use href="#sb" x="424.65" y="48.6" fill="#9e0029"/>
<use href="#sb" x="415.35" y="53.2" fill="#62a936"/>
<use href="#sb" x="418.45" y="53.2" fill="#62a936"/>
<use href="#sb" x="421.55" y="53.2" fill="#62a936"/>
<use href="#sb" x="424.65" y="53.2" fill="#62a936"/>
<use href="#sb" x="415.35" y="59.2" fill="#151515"/>
<use href="#sb" x="418.45" y="59.2" fill="#151515"/>
<use href="#sb" x="421.55" y="59.2" fill="#151515"/>
<use href="#sb" x="424.65" y="59.2" fill="#151515"/>
<use href="#sb" x="370.75" y="165.4" fill="#151515"/>
<use href="#sb" x="373.85" y="165.4" fill="#151515"/>
<use href="#sb" x="376.95" y="165.4" fill="#151515"/>
<use href="#sb" x="380.05" y="165.4" fill="#151515"/>
<use href="#sb" x="386.2" y="169.7" fill="#151515"/>
<use href="#sb" x="393.05" y="160.5" fill="#151515"/>
<use href="#sb" x="396.15" y="160.5" fill="#151515"/>
<use href="#sb" x="399.25" y="160.5" fill="#151515"/>
<use href="#sb" x="402.35" y="160.5" fill="#151515"/>
<use href="#sb" x="414.15" y="122" fill="#151515"/>
<use href="#sb" x="417.25" y="122" fill="#151515"/>
<use href="#sb" x="420.35" y="122" fill="#151515"/>
<use href="#sb" x="423.45" y="122" fill="#151515"/>
<use href="#sb" x="426.15" y="94.3" fill="#151515"/>
<use href="#sb" x="429.25" y="94.3" fill="#151515"/>
<use href="#sb" x="432.35" y="94.3" fill="#151515"/>
<use href="#sb" x="435.45" y="94.3" fill="#151515"/>
<use href="#sb" x="437.65" y="81" fill="#151515"/>
<use href="#sb" x="440.75" y="81" fill="#151515"/>
<use href="#sb" x="443.85" y="81" fill="#151515"/>
<use href="#sb" x="446.95" y="81" fill="#151515"/>
<rect x="261.5" y="208.6" width="102.5" height="15.8" fill="#ececee"/>
<rect x="262.8" y="209.9" width="99.9" height="13.2" fill="none" stroke="#fff" stroke-width="0.8" opacity="0.8"/>
<text x="312.8" y="220.3" font-size="10.5" text-anchor="middle" fill="#1a1a1a" font-weight="normal" textLength="60" lengthAdjust="spacingAndGlyphs">Engraftment</text>
<rect x="364" y="208.6" width="33.6" height="15.8" fill="#dcdcde"/>
<rect x="365.3" y="209.9" width="31" height="13.2" fill="none" stroke="#fff" stroke-width="0.8" opacity="0.8"/>
<text x="381" y="220.3" font-size="10.5" text-anchor="middle" fill="#1a1a1a" font-weight="normal" textLength="12" lengthAdjust="spacingAndGlyphs">Tx</text>
<rect x="397.6" y="208.6" width="79.6" height="15.8" fill="#c3c3c7"/>
<rect x="398.9" y="209.9" width="77" height="13.2" fill="none" stroke="#fff" stroke-width="0.8" opacity="0.8"/>
<text x="437.4" y="220.3" font-size="10.5" text-anchor="middle" fill="#1a1a1a" font-weight="normal" textLength="73" lengthAdjust="spacingAndGlyphs">Watch and wait</text>
<rect x="261.5" y="208.6" width="215.7" height="15.8" fill="none" stroke="#222" stroke-width="1.4"/>
<line x1="364" y1="208.6" x2="364" y2="224.4" stroke="#222" stroke-width="1.4"/>
<line x1="397.6" y1="208.6" x2="397.6" y2="224.4" stroke="#222" stroke-width="1.4"/>
<line x1="256.8" y1="265.6" x2="261.5" y2="265.6" stroke="#111" stroke-width="1.3"/>
<text x="253.5" y="269.1" font-size="11.5" text-anchor="end" fill="#1a1a1a" font-weight="normal">1.5</text>
<line x1="256.8" y1="294.8" x2="261.5" y2="294.8" stroke="#111" stroke-width="1.3"/>
<text x="253.5" y="298.3" font-size="11.5" text-anchor="end" fill="#1a1a1a" font-weight="normal">1.2</text>
<line x1="256.8" y1="324" x2="261.5" y2="324" stroke="#111" stroke-width="1.3"/>
<text x="253.5" y="327.5" font-size="11.5" text-anchor="end" fill="#1a1a1a" font-weight="normal">0.9</text>
<line x1="256.8" y1="353.2" x2="261.5" y2="353.2" stroke="#111" stroke-width="1.3"/>
<text x="253.5" y="356.7" font-size="11.5" text-anchor="end" fill="#1a1a1a" font-weight="normal">0.6</text>
<line x1="256.8" y1="382.4" x2="261.5" y2="382.4" stroke="#111" stroke-width="1.3"/>
<text x="253.5" y="385.9" font-size="11.5" text-anchor="end" fill="#1a1a1a" font-weight="normal">0.3</text>
<line x1="256.8" y1="411.6" x2="261.5" y2="411.6" stroke="#111" stroke-width="1.3"/>
<text x="253.5" y="415.1" font-size="11.5" text-anchor="end" fill="#1a1a1a" font-weight="normal">0</text>
<line x1="262" y1="411.6" x2="262" y2="416.1" stroke="#111" stroke-width="1.4"/>
<text x="262" y="428.9" font-size="11.5" text-anchor="middle" fill="#1a1a1a" font-weight="normal">0</text>
<line x1="289.5" y1="411.6" x2="289.5" y2="416.1" stroke="#111" stroke-width="1.4"/>
<text x="289.5" y="428.9" font-size="11.5" text-anchor="middle" fill="#1a1a1a" font-weight="normal">7</text>
<line x1="315.8" y1="411.6" x2="315.8" y2="416.1" stroke="#111" stroke-width="1.4"/>
<text x="315.8" y="428.9" font-size="11.5" text-anchor="middle" fill="#1a1a1a" font-weight="normal">14</text>
<line x1="339.5" y1="411.6" x2="339.5" y2="416.1" stroke="#111" stroke-width="1.4"/>
<text x="339.5" y="428.9" font-size="11.5" text-anchor="middle" fill="#1a1a1a" font-weight="normal">21</text>
<line x1="371" y1="411.6" x2="371" y2="416.1" stroke="#111" stroke-width="1.4"/>
<text x="371" y="428.9" font-size="11.5" text-anchor="middle" fill="#1a1a1a" font-weight="normal">30</text>
<line x1="412.5" y1="411.6" x2="412.5" y2="416.1" stroke="#111" stroke-width="1.4"/>
<text x="412.5" y="428.9" font-size="11.5" text-anchor="middle" fill="#1a1a1a" font-weight="normal">39</text>
<line x1="446.2" y1="411.6" x2="446.2" y2="416.1" stroke="#111" stroke-width="1.4"/>
<text x="446.2" y="428.9" font-size="11.5" text-anchor="middle" fill="#1a1a1a" font-weight="normal">50</text>
<line x1="477.5" y1="411.6" x2="477.5" y2="416.1" stroke="#111" stroke-width="1.4"/>
<text x="477.5" y="428.9" font-size="11.5" text-anchor="middle" fill="#1a1a1a" font-weight="normal">60</text>
<text x="486.3" y="428.9" font-size="11.5" text-anchor="start" fill="#1a1a1a" font-weight="normal" textLength="22.8" lengthAdjust="spacingAndGlyphs">Days</text>
<text transform="translate(231.9,336.5) rotate(-90)" font-size="12.5" text-anchor="middle" fill="#1a1a1a" textLength="117.5" lengthAdjust="spacingAndGlyphs">Tumor mass volume (cm<tspan font-size="8.6" dy="-4.6">3</tspan><tspan dy="4.6">)</tspan></text>
<line x1="267" y1="272.5" x2="282.5" y2="272.5" stroke="#1f3d7a" stroke-width="1.6"/>
<circle cx="274.7" cy="272.5" r="2.2" fill="#1f3d7a"/>
<text x="286.5" y="276.1" font-size="11" text-anchor="start" fill="#1a1a1a" font-weight="normal" textLength="16.5" lengthAdjust="spacingAndGlyphs">Veh</text>
<line x1="267" y1="287" x2="282.5" y2="287" stroke="#9e0029" stroke-width="1.6"/>
<rect x="272.4" y="284.7" width="4.6" height="4.6" fill="#9e0029"/>
<text x="286.5" y="290.6" font-size="11" text-anchor="start" fill="#1a1a1a" font-weight="normal" textLength="17" lengthAdjust="spacingAndGlyphs">Duv</text>
<line x1="267" y1="301.8" x2="282.5" y2="301.8" stroke="#62a936" stroke-width="1.6"/>
<polygon points="274.7,299.4 272.3,303.6 277.1,303.6" fill="#62a936"/>
<text x="286.5" y="305.4" font-size="11" text-anchor="start" fill="#1a1a1a" font-weight="normal" textLength="16.5" lengthAdjust="spacingAndGlyphs">Ven</text>
<line x1="267" y1="316.3" x2="282.5" y2="316.3" stroke="#404759" stroke-width="1.6"/>
<polygon points="274.7,318.7 272.3,314.5 277.1,314.5" fill="#404759"/>
<text x="286.5" y="319.9" font-size="11" text-anchor="start" fill="#1a1a1a" font-weight="normal" textLength="37.5" lengthAdjust="spacingAndGlyphs">Duv/Ven</text>
<line x1="261.5" y1="262.5" x2="261.5" y2="412.2" stroke="#111" stroke-width="1.5"/>
<line x1="260.8" y1="411.6" x2="480.6" y2="411.6" stroke="#111" stroke-width="1.5"/>
<clipPath id="c411"><rect x="261.5" y="0" width="229.1" height="411.6"/></clipPath>
<g>
<line x1="394.5" y1="368" x2="394.5" y2="375" stroke="#1f3d7a" stroke-width="1.25"/>
<line x1="392.45" y1="368" x2="396.55" y2="368" stroke="#1f3d7a" stroke-width="1.45"/>
<line x1="392.45" y1="375" x2="396.55" y2="375" stroke="#1f3d7a" stroke-width="1.45"/>
<line x1="412.5" y1="341.3" x2="412.5" y2="352.5" stroke="#1f3d7a" stroke-width="1.25"/>
<line x1="410.45" y1="341.3" x2="414.55" y2="341.3" stroke="#1f3d7a" stroke-width="1.45"/>
<line x1="410.45" y1="352.5" x2="414.55" y2="352.5" stroke="#1f3d7a" stroke-width="1.45"/>
<line x1="438.3" y1="313" x2="438.3" y2="337.5" stroke="#1f3d7a" stroke-width="1.25"/>
<line x1="436.25" y1="313" x2="440.35" y2="313" stroke="#1f3d7a" stroke-width="1.45"/>
<line x1="436.25" y1="337.5" x2="440.35" y2="337.5" stroke="#1f3d7a" stroke-width="1.45"/>
<line x1="445.8" y1="304.3" x2="445.8" y2="322" stroke="#1f3d7a" stroke-width="1.25"/>
<line x1="443.75" y1="304.3" x2="447.85" y2="304.3" stroke="#1f3d7a" stroke-width="1.45"/>
<line x1="443.75" y1="322" x2="447.85" y2="322" stroke="#1f3d7a" stroke-width="1.45"/>
<polyline points="263.2,411.6 289.5,411.6 315.8,411.6 339.5,411.6 350.8,411 368.8,406.2 376.3,392 394.5,371.3 412.5,347 438.3,324.5 445.8,313" fill="none" stroke="#1f3d7a" stroke-width="1.9" stroke-linejoin="round"/>
<circle cx="263.2" cy="411.6" r="2.2" fill="#1f3d7a"/>
<circle cx="289.5" cy="411.6" r="2.2" fill="#1f3d7a"/>
<circle cx="315.8" cy="411.6" r="2.2" fill="#1f3d7a"/>
<circle cx="339.5" cy="411.6" r="2.2" fill="#1f3d7a"/>
<circle cx="350.8" cy="411" r="2.2" fill="#1f3d7a"/>
<circle cx="368.8" cy="406.2" r="2.2" fill="#1f3d7a"/>
<circle cx="376.3" cy="392" r="2.2" fill="#1f3d7a"/>
<circle cx="394.5" cy="371.3" r="2.2" fill="#1f3d7a"/>
<circle cx="412.5" cy="347" r="2.2" fill="#1f3d7a"/>
<circle cx="438.3" cy="324.5" r="2.2" fill="#1f3d7a"/>
<circle cx="445.8" cy="313" r="2.2" fill="#1f3d7a"/>
<line x1="394.5" y1="383" x2="394.5" y2="395" stroke="#9e0029" stroke-width="1.25"/>
<line x1="392.45" y1="383" x2="396.55" y2="383" stroke="#9e0029" stroke-width="1.45"/>
<line x1="392.45" y1="395" x2="396.55" y2="395" stroke="#9e0029" stroke-width="1.45"/>
<line x1="412.5" y1="367.5" x2="412.5" y2="385.5" stroke="#9e0029" stroke-width="1.25"/>
<line x1="410.45" y1="367.5" x2="414.55" y2="367.5" stroke="#9e0029" stroke-width="1.45"/>
<line x1="410.45" y1="385.5" x2="414.55" y2="385.5" stroke="#9e0029" stroke-width="1.45"/>
<line x1="438.3" y1="353.8" x2="438.3" y2="377.5" stroke="#9e0029" stroke-width="1.25"/>
<line x1="436.25" y1="353.8" x2="440.35" y2="353.8" stroke="#9e0029" stroke-width="1.45"/>
<line x1="436.25" y1="377.5" x2="440.35" y2="377.5" stroke="#9e0029" stroke-width="1.45"/>
<line x1="445.8" y1="335.5" x2="445.8" y2="360" stroke="#9e0029" stroke-width="1.25"/>
<line x1="443.75" y1="335.5" x2="447.85" y2="335.5" stroke="#9e0029" stroke-width="1.45"/>
<line x1="443.75" y1="360" x2="447.85" y2="360" stroke="#9e0029" stroke-width="1.45"/>
<line x1="452.8" y1="323.3" x2="452.8" y2="350" stroke="#9e0029" stroke-width="1.25"/>
<line x1="450.75" y1="323.3" x2="454.85" y2="323.3" stroke="#9e0029" stroke-width="1.45"/>
<line x1="450.75" y1="350" x2="454.85" y2="350" stroke="#9e0029" stroke-width="1.45"/>
<line x1="463.8" y1="291.3" x2="463.8" y2="311.3" stroke="#9e0029" stroke-width="1.25"/>
<line x1="461.75" y1="291.3" x2="465.85" y2="291.3" stroke="#9e0029" stroke-width="1.45"/>
<line x1="461.75" y1="311.3" x2="465.85" y2="311.3" stroke="#9e0029" stroke-width="1.45"/>
<polyline points="263.2,411.6 289.5,411.6 315.8,411.6 339.5,411.6 350.8,411 368.8,406.2 376.3,392 394.5,389.3 412.5,376 438.3,365.3 445.8,347.8 452.8,336.3 463.8,301.5" fill="none" stroke="#9e0029" stroke-width="1.9" stroke-linejoin="round"/>
<rect x="260.9" y="409.3" width="4.6" height="4.6" fill="#9e0029"/>
<rect x="287.2" y="409.3" width="4.6" height="4.6" fill="#9e0029"/>
<rect x="313.5" y="409.3" width="4.6" height="4.6" fill="#9e0029"/>
<rect x="337.2" y="409.3" width="4.6" height="4.6" fill="#9e0029"/>
<rect x="348.5" y="408.7" width="4.6" height="4.6" fill="#9e0029"/>
<rect x="366.5" y="403.9" width="4.6" height="4.6" fill="#9e0029"/>
<rect x="374" y="389.7" width="4.6" height="4.6" fill="#9e0029"/>
<rect x="392.2" y="387" width="4.6" height="4.6" fill="#9e0029"/>
<rect x="410.2" y="373.7" width="4.6" height="4.6" fill="#9e0029"/>
<rect x="436" y="363" width="4.6" height="4.6" fill="#9e0029"/>
<rect x="443.5" y="345.5" width="4.6" height="4.6" fill="#9e0029"/>
<rect x="450.5" y="334" width="4.6" height="4.6" fill="#9e0029"/>
<rect x="461.5" y="299.2" width="4.6" height="4.6" fill="#9e0029"/>
<line x1="412.5" y1="395" x2="412.5" y2="403.5" stroke="#62a936" stroke-width="1.25"/>
<line x1="410.45" y1="395" x2="414.55" y2="395" stroke="#62a936" stroke-width="1.45"/>
<line x1="410.45" y1="403.5" x2="414.55" y2="403.5" stroke="#62a936" stroke-width="1.45"/>
<line x1="438.3" y1="381.3" x2="438.3" y2="396.3" stroke="#62a936" stroke-width="1.25"/>
<line x1="436.25" y1="381.3" x2="440.35" y2="381.3" stroke="#62a936" stroke-width="1.45"/>
<line x1="436.25" y1="396.3" x2="440.35" y2="396.3" stroke="#62a936" stroke-width="1.45"/>
<line x1="445.8" y1="374.5" x2="445.8" y2="395" stroke="#62a936" stroke-width="1.25"/>
<line x1="443.75" y1="374.5" x2="447.85" y2="374.5" stroke="#62a936" stroke-width="1.45"/>
<line x1="443.75" y1="395" x2="447.85" y2="395" stroke="#62a936" stroke-width="1.45"/>
<line x1="452.8" y1="368" x2="452.8" y2="392.5" stroke="#62a936" stroke-width="1.25"/>
<line x1="450.75" y1="368" x2="454.85" y2="368" stroke="#62a936" stroke-width="1.45"/>
<line x1="450.75" y1="392.5" x2="454.85" y2="392.5" stroke="#62a936" stroke-width="1.45"/>
<line x1="463.8" y1="348" x2="463.8" y2="377.5" stroke="#62a936" stroke-width="1.25"/>
<line x1="461.75" y1="348" x2="465.85" y2="348" stroke="#62a936" stroke-width="1.45"/>
<line x1="461.75" y1="377.5" x2="465.85" y2="377.5" stroke="#62a936" stroke-width="1.45"/>
<line x1="474.5" y1="325.5" x2="474.5" y2="355.5" stroke="#62a936" stroke-width="1.25"/>
<line x1="472.45" y1="325.5" x2="476.55" y2="325.5" stroke="#62a936" stroke-width="1.45"/>
<line x1="472.45" y1="355.5" x2="476.55" y2="355.5" stroke="#62a936" stroke-width="1.45"/>
<polyline points="263.2,411.6 289.5,411.6 315.8,411.6 339.5,411.6 350.8,411 368.8,406.2 376.3,392 394.5,393 412.5,399.3 438.3,388.5 445.8,384.5 452.8,380 463.8,363 474.5,340.5" fill="none" stroke="#62a936" stroke-width="1.9" stroke-linejoin="round"/>
<polygon points="263.2,409.2 260.8,413.4 265.6,413.4" fill="#62a936"/>
<polygon points="289.5,409.2 287.1,413.4 291.9,413.4" fill="#62a936"/>
<polygon points="315.8,409.2 313.4,413.4 318.2,413.4" fill="#62a936"/>
<polygon points="339.5,409.2 337.1,413.4 341.9,413.4" fill="#62a936"/>
<polygon points="350.8,408.6 348.4,412.8 353.2,412.8" fill="#62a936"/>
<polygon points="368.8,403.8 366.4,408 371.2,408" fill="#62a936"/>
<polygon points="376.3,389.6 373.9,393.8 378.7,393.8" fill="#62a936"/>
<polygon points="394.5,390.6 392.1,394.8 396.9,394.8" fill="#62a936"/>
<polygon points="412.5,396.9 410.1,401.1 414.9,401.1" fill="#62a936"/>
<polygon points="438.3,386.1 435.9,390.3 440.7,390.3" fill="#62a936"/>
<polygon points="445.8,382.1 443.4,386.3 448.2,386.3" fill="#62a936"/>
<polygon points="452.8,377.6 450.4,381.8 455.2,381.8" fill="#62a936"/>
<polygon points="463.8,360.6 461.4,364.8 466.2,364.8" fill="#62a936"/>
<polygon points="474.5,338.1 472.1,342.3 476.9,342.3" fill="#62a936"/>
<line x1="394.8" y1="395.5" x2="394.8" y2="405.3" stroke="#404759" stroke-width="1.25"/>
<line x1="392.75" y1="395.5" x2="396.85" y2="395.5" stroke="#404759" stroke-width="1.45"/>
<line x1="392.75" y1="405.3" x2="396.85" y2="405.3" stroke="#404759" stroke-width="1.45"/>
<polyline points="263.2,411.6 289.5,411.6 315.8,411.6 339.5,411.6 350.8,411 368.8,406.2 376.3,392 394.8,401.5 412.3,411.3 438.3,411.6 445.8,411.6 452.8,411.6 477.5,411.6" fill="none" stroke="#404759" stroke-width="1.9" stroke-linejoin="round"/>
<polygon points="263.2,414 260.8,409.8 265.6,409.8" fill="#404759"/>
<polygon points="289.5,414 287.1,409.8 291.9,409.8" fill="#404759"/>
<polygon points="315.8,414 313.4,409.8 318.2,409.8" fill="#404759"/>
<polygon points="339.5,414 337.1,409.8 341.9,409.8" fill="#404759"/>
<polygon points="350.8,413.4 348.4,409.2 353.2,409.2" fill="#404759"/>
<polygon points="368.8,408.6 366.4,404.4 371.2,404.4" fill="#404759"/>
<polygon points="376.3,394.4 373.9,390.2 378.7,390.2" fill="#404759"/>
<polygon points="394.8,403.9 392.4,399.7 397.2,399.7" fill="#404759"/>
<polygon points="412.3,413.7 409.9,409.5 414.7,409.5" fill="#404759"/>
<polygon points="438.3,414 435.9,409.8 440.7,409.8" fill="#404759"/>
<polygon points="445.8,414 443.4,409.8 448.2,409.8" fill="#404759"/>
<polygon points="452.8,414 450.4,409.8 455.2,409.8" fill="#404759"/>
<polygon points="477.5,414 475.1,409.8 479.9,409.8" fill="#404759"/>
</g>
<use href="#sb" x="391.4" y="364.3" fill="#151515"/>
<use href="#sb" x="394.5" y="364.3" fill="#151515"/>
<use href="#sb" x="397.6" y="364.3" fill="#151515"/>
<use href="#sb" x="412.5" y="328" fill="#9e0029"/>
<use href="#sb" x="407.85" y="333" fill="#62a936"/>
<use href="#sb" x="410.95" y="333" fill="#62a936"/>
<use href="#sb" x="414.05" y="333" fill="#62a936"/>
<use href="#sb" x="417.15" y="333" fill="#62a936"/>
<use href="#sb" x="407.85" y="338" fill="#151515"/>
<use href="#sb" x="410.95" y="338" fill="#151515"/>
<use href="#sb" x="414.05" y="338" fill="#151515"/>
<use href="#sb" x="417.15" y="338" fill="#151515"/>
<use href="#sb" x="438.3" y="300" fill="#9e0029"/>
<use href="#sb" x="435.2" y="305" fill="#62a936"/>
<use href="#sb" x="438.3" y="305" fill="#62a936"/>
<use href="#sb" x="441.4" y="305" fill="#62a936"/>
<use href="#sb" x="435.2" y="310" fill="#151515"/>
<use href="#sb" x="438.3" y="310" fill="#151515"/>
<use href="#sb" x="441.4" y="310" fill="#151515"/>
<use href="#sb" x="442.7" y="295" fill="#62a936"/>
<use href="#sb" x="445.8" y="295" fill="#62a936"/>
<use href="#sb" x="448.9" y="295" fill="#62a936"/>
<use href="#sb" x="444.25" y="301.3" fill="#151515"/>
<use href="#sb" x="447.35" y="301.3" fill="#151515"/>
<use href="#sb" x="452.8" y="320" fill="#62a936"/>
<use href="#sb" x="412.5" y="363.8" fill="#62a936"/>
<use href="#sb" x="445.8" y="331.3" fill="#62a936"/>
<use href="#sb" x="462.25" y="282" fill="#62a936"/>
<use href="#sb" x="465.35" y="282" fill="#62a936"/>
<use href="#sb" x="462.25" y="288" fill="#151515"/>
<use href="#sb" x="465.35" y="288" fill="#151515"/>
<rect x="261.5" y="435.6" width="109.9" height="15.2" fill="#ececee"/>
<rect x="262.8" y="436.9" width="107.3" height="12.6" fill="none" stroke="#fff" stroke-width="0.8" opacity="0.8"/>
<text x="316.2" y="447" font-size="10.5" text-anchor="middle" fill="#1a1a1a" font-weight="normal" textLength="60" lengthAdjust="spacingAndGlyphs">Engraftment</text>
<rect x="371.4" y="435.6" width="44.3" height="15.2" fill="#dcdcde"/>
<rect x="372.7" y="436.9" width="41.7" height="12.6" fill="none" stroke="#fff" stroke-width="0.8" opacity="0.8"/>
<text x="393" y="447" font-size="10.5" text-anchor="middle" fill="#1a1a1a" font-weight="normal" textLength="12" lengthAdjust="spacingAndGlyphs">Tx</text>
<rect x="415.7" y="435.6" width="61.5" height="15.2" fill="#c3c3c7"/>
<rect x="417" y="436.9" width="58.9" height="12.6" fill="none" stroke="#fff" stroke-width="0.8" opacity="0.8"/>
<text x="446.3" y="447" font-size="10.5" text-anchor="middle" fill="#1a1a1a" font-weight="normal" textLength="24.5" lengthAdjust="spacingAndGlyphs">W/W</text>
<rect x="261.5" y="435.6" width="215.7" height="15.2" fill="none" stroke="#222" stroke-width="1.4"/>
<line x1="371.4" y1="435.6" x2="371.4" y2="450.8" stroke="#222" stroke-width="1.4"/>
<line x1="415.7" y1="435.6" x2="415.7" y2="450.8" stroke="#222" stroke-width="1.4"/>
<line x1="256.8" y1="483.8" x2="261.5" y2="483.8" stroke="#111" stroke-width="1.3"/>
<text x="253.5" y="487.3" font-size="11.5" text-anchor="end" fill="#1a1a1a" font-weight="normal">2.0</text>
<line x1="256.8" y1="519.7" x2="261.5" y2="519.7" stroke="#111" stroke-width="1.3"/>
<text x="253.5" y="523.2" font-size="11.5" text-anchor="end" fill="#1a1a1a" font-weight="normal">1.5</text>
<line x1="256.8" y1="555.6" x2="261.5" y2="555.6" stroke="#111" stroke-width="1.3"/>
<text x="253.5" y="559.1" font-size="11.5" text-anchor="end" fill="#1a1a1a" font-weight="normal">1.0</text>
<line x1="256.8" y1="591.6" x2="261.5" y2="591.6" stroke="#111" stroke-width="1.3"/>
<text x="253.5" y="595.1" font-size="11.5" text-anchor="end" fill="#1a1a1a" font-weight="normal">0.5</text>
<line x1="256.8" y1="627.5" x2="261.5" y2="627.5" stroke="#111" stroke-width="1.3"/>
<text x="253.5" y="631" font-size="11.5" text-anchor="end" fill="#1a1a1a" font-weight="normal">0</text>
<line x1="262" y1="627.5" x2="262" y2="632" stroke="#111" stroke-width="1.4"/>
<text x="262" y="644.7" font-size="11.5" text-anchor="middle" fill="#1a1a1a" font-weight="normal">0</text>
<line x1="289.5" y1="627.5" x2="289.5" y2="632" stroke="#111" stroke-width="1.4"/>
<text x="289.5" y="644.7" font-size="11.5" text-anchor="middle" fill="#1a1a1a" font-weight="normal">3</text>
<line x1="321.8" y1="627.5" x2="321.8" y2="632" stroke="#111" stroke-width="1.4"/>
<text x="321.8" y="644.7" font-size="11.5" text-anchor="middle" fill="#1a1a1a" font-weight="normal">7</text>
<line x1="361.3" y1="627.5" x2="361.3" y2="632" stroke="#111" stroke-width="1.4"/>
<text x="361.3" y="644.7" font-size="11.5" text-anchor="middle" fill="#1a1a1a" font-weight="normal">12</text>
<line x1="410.8" y1="627.5" x2="410.8" y2="632" stroke="#111" stroke-width="1.4"/>
<text x="410.8" y="644.7" font-size="11.5" text-anchor="middle" fill="#1a1a1a" font-weight="normal">18</text>
<line x1="433.2" y1="627.5" x2="433.2" y2="632" stroke="#111" stroke-width="1.4"/>
<text x="433.2" y="644.7" font-size="11.5" text-anchor="middle" fill="#1a1a1a" font-weight="normal">21</text>
<line x1="477.5" y1="627.5" x2="477.5" y2="632" stroke="#111" stroke-width="1.4"/>
<text x="477.5" y="644.7" font-size="11.5" text-anchor="middle" fill="#1a1a1a" font-weight="normal">26</text>
<text x="490" y="644.7" font-size="11.5" text-anchor="start" fill="#1a1a1a" font-weight="normal" textLength="22" lengthAdjust="spacingAndGlyphs">Days</text>
<text transform="translate(231.9,553.6) rotate(-90)" font-size="12.5" text-anchor="middle" fill="#1a1a1a" textLength="117.5" lengthAdjust="spacingAndGlyphs">Tumor mass volume (cm<tspan font-size="8.6" dy="-4.6">3</tspan><tspan dy="4.6">)</tspan></text>
<line x1="267.5" y1="493" x2="283" y2="493" stroke="#1f3d7a" stroke-width="1.6"/>
<circle cx="275.2" cy="493" r="2.2" fill="#1f3d7a"/>
<text x="287" y="496.6" font-size="11" text-anchor="start" fill="#1a1a1a" font-weight="normal" textLength="16.5" lengthAdjust="spacingAndGlyphs">Veh</text>
<line x1="267.5" y1="507.5" x2="283" y2="507.5" stroke="#9e0029" stroke-width="1.6"/>
<rect x="272.9" y="505.2" width="4.6" height="4.6" fill="#9e0029"/>
<text x="287" y="511.1" font-size="11" text-anchor="start" fill="#1a1a1a" font-weight="normal" textLength="17" lengthAdjust="spacingAndGlyphs">Duv</text>
<line x1="267.5" y1="522" x2="283" y2="522" stroke="#62a936" stroke-width="1.6"/>
<polygon points="275.2,519.6 272.8,523.8 277.6,523.8" fill="#62a936"/>
<text x="287" y="525.6" font-size="11" text-anchor="start" fill="#1a1a1a" font-weight="normal" textLength="16.5" lengthAdjust="spacingAndGlyphs">Ven</text>
<line x1="267.5" y1="536.8" x2="283" y2="536.8" stroke="#404759" stroke-width="1.6"/>
<polygon points="275.2,539.2 272.8,535 277.6,535" fill="#404759"/>
<text x="287" y="540.4" font-size="11" text-anchor="start" fill="#1a1a1a" font-weight="normal" textLength="37.5" lengthAdjust="spacingAndGlyphs">Duv/Ven</text>
<line x1="261.5" y1="480.5" x2="261.5" y2="628.1" stroke="#111" stroke-width="1.5"/>
<line x1="260.8" y1="627.5" x2="481.5" y2="627.5" stroke="#111" stroke-width="1.5"/>
<clipPath id="c627"><rect x="261.5" y="0" width="230" height="627.5"/></clipPath>
<g>
<line x1="410" y1="600" x2="410" y2="617" stroke="#404759" stroke-width="1.25"/>
<line x1="407.95" y1="600" x2="412.05" y2="600" stroke="#404759" stroke-width="1.45"/>
<line x1="407.95" y1="617" x2="412.05" y2="617" stroke="#404759" stroke-width="1.45"/>
<line x1="425.8" y1="597" x2="425.8" y2="610" stroke="#404759" stroke-width="1.25"/>
<line x1="423.75" y1="597" x2="427.85" y2="597" stroke="#404759" stroke-width="1.45"/>
<line x1="423.75" y1="610" x2="427.85" y2="610" stroke="#404759" stroke-width="1.45"/>
<line x1="433.3" y1="586" x2="433.3" y2="597.5" stroke="#404759" stroke-width="1.25"/>
<line x1="431.25" y1="586" x2="435.35" y2="586" stroke="#404759" stroke-width="1.45"/>
<line x1="431.25" y1="597.5" x2="435.35" y2="597.5" stroke="#404759" stroke-width="1.45"/>
<line x1="441.3" y1="567" x2="441.3" y2="585" stroke="#404759" stroke-width="1.25"/>
<line x1="439.25" y1="567" x2="443.35" y2="567" stroke="#404759" stroke-width="1.45"/>
<line x1="439.25" y1="585" x2="443.35" y2="585" stroke="#404759" stroke-width="1.45"/>
<line x1="465.8" y1="558.8" x2="465.8" y2="573.8" stroke="#404759" stroke-width="1.25"/>
<line x1="463.75" y1="558.8" x2="467.85" y2="558.8" stroke="#404759" stroke-width="1.45"/>
<line x1="463.75" y1="573.8" x2="467.85" y2="573.8" stroke="#404759" stroke-width="1.45"/>
<line x1="473.8" y1="538" x2="473.8" y2="548" stroke="#404759" stroke-width="1.25"/>
<line x1="471.75" y1="538" x2="475.85" y2="538" stroke="#404759" stroke-width="1.45"/>
<line x1="471.75" y1="548" x2="475.85" y2="548" stroke="#404759" stroke-width="1.45"/>
<polyline points="265.8,627.5 289.5,627.5 321.8,627.5 346.3,620 361.3,612.5 410,608.8 425.8,603.3 433.3,591.3 441.3,575 465.8,565.5 473.8,542" fill="none" stroke="#404759" stroke-width="1.9" stroke-linejoin="round"/>
<polygon points="265.8,629.9 263.4,625.7 268.2,625.7" fill="#404759"/>
<polygon points="289.5,629.9 287.1,625.7 291.9,625.7" fill="#404759"/>
<polygon points="321.8,629.9 319.4,625.7 324.2,625.7" fill="#404759"/>
<polygon points="346.3,622.4 343.9,618.2 348.7,618.2" fill="#404759"/>
<polygon points="361.3,614.9 358.9,610.7 363.7,610.7" fill="#404759"/>
<polygon points="410,611.2 407.6,607 412.4,607" fill="#404759"/>
<polygon points="425.8,605.7 423.4,601.5 428.2,601.5" fill="#404759"/>
<polygon points="433.3,593.7 430.9,589.5 435.7,589.5" fill="#404759"/>
<polygon points="441.3,577.4 438.9,573.2 443.7,573.2" fill="#404759"/>
<polygon points="465.8,567.9 463.4,563.7 468.2,563.7" fill="#404759"/>
<polygon points="473.8,544.4 471.4,540.2 476.2,540.2" fill="#404759"/>
<line x1="410" y1="582" x2="410" y2="592" stroke="#62a936" stroke-width="1.25"/>
<line x1="407.95" y1="582" x2="412.05" y2="582" stroke="#62a936" stroke-width="1.45"/>
<line x1="407.95" y1="592" x2="412.05" y2="592" stroke="#62a936" stroke-width="1.45"/>
<line x1="425.8" y1="563" x2="425.8" y2="569.5" stroke="#62a936" stroke-width="1.25"/>
<line x1="423.75" y1="563" x2="427.85" y2="563" stroke="#62a936" stroke-width="1.45"/>
<line x1="423.75" y1="569.5" x2="427.85" y2="569.5" stroke="#62a936" stroke-width="1.45"/>
<line x1="433.3" y1="554.5" x2="433.3" y2="562" stroke="#62a936" stroke-width="1.25"/>
<line x1="431.25" y1="554.5" x2="435.35" y2="554.5" stroke="#62a936" stroke-width="1.45"/>
<line x1="431.25" y1="562" x2="435.35" y2="562" stroke="#62a936" stroke-width="1.45"/>
<line x1="441.3" y1="537" x2="441.3" y2="550" stroke="#62a936" stroke-width="1.25"/>
<line x1="439.25" y1="537" x2="443.35" y2="537" stroke="#62a936" stroke-width="1.45"/>
<line x1="439.25" y1="550" x2="443.35" y2="550" stroke="#62a936" stroke-width="1.45"/>
<line x1="465.8" y1="520.5" x2="465.8" y2="541.3" stroke="#62a936" stroke-width="1.25"/>
<line x1="463.75" y1="520.5" x2="467.85" y2="520.5" stroke="#62a936" stroke-width="1.45"/>
<line x1="463.75" y1="541.3" x2="467.85" y2="541.3" stroke="#62a936" stroke-width="1.45"/>
<polyline points="265.8,627.5 289.5,627.5 321.8,627.5 346.3,620 361.3,612.5 410,587.5 425.8,566.3 433.3,559.5 441.3,543.8 465.8,531.8" fill="none" stroke="#62a936" stroke-width="1.9" stroke-linejoin="round"/>
<polygon points="265.8,625.1 263.4,629.3 268.2,629.3" fill="#62a936"/>
<polygon points="289.5,625.1 287.1,629.3 291.9,629.3" fill="#62a936"/>
<polygon points="321.8,625.1 319.4,629.3 324.2,629.3" fill="#62a936"/>
<polygon points="346.3,617.6 343.9,621.8 348.7,621.8" fill="#62a936"/>
<polygon points="361.3,610.1 358.9,614.3 363.7,614.3" fill="#62a936"/>
<polygon points="410,585.1 407.6,589.3 412.4,589.3" fill="#62a936"/>
<polygon points="425.8,563.9 423.4,568.1 428.2,568.1" fill="#62a936"/>
<polygon points="433.3,557.1 430.9,561.3 435.7,561.3" fill="#62a936"/>
<polygon points="441.3,541.4 438.9,545.6 443.7,545.6" fill="#62a936"/>
<polygon points="465.8,529.4 463.4,533.6 468.2,533.6" fill="#62a936"/>
<line x1="410" y1="566" x2="410" y2="573.8" stroke="#9e0029" stroke-width="1.25"/>
<line x1="407.95" y1="566" x2="412.05" y2="566" stroke="#9e0029" stroke-width="1.45"/>
<line x1="407.95" y1="573.8" x2="412.05" y2="573.8" stroke="#9e0029" stroke-width="1.45"/>
<line x1="425.8" y1="543.8" x2="425.8" y2="557.5" stroke="#9e0029" stroke-width="1.25"/>
<line x1="423.75" y1="543.8" x2="427.85" y2="543.8" stroke="#9e0029" stroke-width="1.45"/>
<line x1="423.75" y1="557.5" x2="427.85" y2="557.5" stroke="#9e0029" stroke-width="1.45"/>
<line x1="433.3" y1="523" x2="433.3" y2="545.5" stroke="#9e0029" stroke-width="1.25"/>
<line x1="431.25" y1="523" x2="435.35" y2="523" stroke="#9e0029" stroke-width="1.45"/>
<line x1="431.25" y1="545.5" x2="435.35" y2="545.5" stroke="#9e0029" stroke-width="1.45"/>
<polyline points="265.8,627.5 289.5,627.5 321.8,627.5 346.3,620 361.3,612.5 410,569.5 425.8,550.8 433.3,533.8" fill="none" stroke="#9e0029" stroke-width="1.9" stroke-linejoin="round"/>
<rect x="263.5" y="625.2" width="4.6" height="4.6" fill="#9e0029"/>
<rect x="287.2" y="625.2" width="4.6" height="4.6" fill="#9e0029"/>
<rect x="319.5" y="625.2" width="4.6" height="4.6" fill="#9e0029"/>
<rect x="344" y="617.7" width="4.6" height="4.6" fill="#9e0029"/>
<rect x="359" y="610.2" width="4.6" height="4.6" fill="#9e0029"/>
<rect x="407.7" y="567.2" width="4.6" height="4.6" fill="#9e0029"/>
<rect x="423.5" y="548.5" width="4.6" height="4.6" fill="#9e0029"/>
<rect x="431" y="531.5" width="4.6" height="4.6" fill="#9e0029"/>
<line x1="410" y1="545" x2="410" y2="561.3" stroke="#1f3d7a" stroke-width="1.25"/>
<line x1="407.95" y1="545" x2="412.05" y2="545" stroke="#1f3d7a" stroke-width="1.45"/>
<line x1="407.95" y1="561.3" x2="412.05" y2="561.3" stroke="#1f3d7a" stroke-width="1.45"/>
<line x1="425.8" y1="506.3" x2="425.8" y2="527.5" stroke="#1f3d7a" stroke-width="1.25"/>
<line x1="423.75" y1="506.3" x2="427.85" y2="506.3" stroke="#1f3d7a" stroke-width="1.45"/>
<line x1="423.75" y1="527.5" x2="427.85" y2="527.5" stroke="#1f3d7a" stroke-width="1.45"/>
<polyline points="265.8,627.5 289.5,627.5 321.8,627.5 346.3,620 361.3,612.5 410,553 425.8,517.5" fill="none" stroke="#1f3d7a" stroke-width="1.9" stroke-linejoin="round"/>
<circle cx="265.8" cy="627.5" r="2.2" fill="#1f3d7a"/>
<circle cx="289.5" cy="627.5" r="2.2" fill="#1f3d7a"/>
<circle cx="321.8" cy="627.5" r="2.2" fill="#1f3d7a"/>
<circle cx="346.3" cy="620" r="2.2" fill="#1f3d7a"/>
<circle cx="361.3" cy="612.5" r="2.2" fill="#1f3d7a"/>
<circle cx="410" cy="553" r="2.2" fill="#1f3d7a"/>
<circle cx="425.8" cy="517.5" r="2.2" fill="#1f3d7a"/>
</g>
<use href="#sb" x="408.45" y="534.5" fill="#62a936"/>
<use href="#sb" x="411.55" y="534.5" fill="#62a936"/>
<use href="#sb" x="406.9" y="540" fill="#151515"/>
<use href="#sb" x="410" y="540" fill="#151515"/>
<use href="#sb" x="413.1" y="540" fill="#151515"/>
<use href="#sb" x="406.9" y="564.5" fill="#151515"/>
<use href="#sb" x="410" y="564.5" fill="#151515"/>
<use href="#sb" x="413.1" y="564.5" fill="#151515"/>
<use href="#sb" x="410" y="578" fill="#151515"/>
<use href="#sb" x="425.8" y="491.3" fill="#9e0029"/>
<use href="#sb" x="422.7" y="497.5" fill="#62a936"/>
<use href="#sb" x="425.8" y="497.5" fill="#62a936"/>
<use href="#sb" x="428.9" y="497.5" fill="#62a936"/>
<use href="#sb" x="421.15" y="503" fill="#151515"/>
<use href="#sb" x="424.25" y="503" fill="#151515"/>
<use href="#sb" x="427.35" y="503" fill="#151515"/>
<use href="#sb" x="430.45" y="503" fill="#151515"/>
<use href="#sb" x="422.7" y="540" fill="#151515"/>
<use href="#sb" x="425.8" y="540" fill="#151515"/>
<use href="#sb" x="428.9" y="540" fill="#151515"/>
<use href="#sb" x="422.7" y="560.5" fill="#151515"/>
<use href="#sb" x="425.8" y="560.5" fill="#151515"/>
<use href="#sb" x="428.9" y="560.5" fill="#151515"/>
<use href="#sb" x="430.2" y="512.5" fill="#62a936"/>
<use href="#sb" x="433.3" y="512.5" fill="#62a936"/>
<use href="#sb" x="436.4" y="512.5" fill="#62a936"/>
<use href="#sb" x="430.2" y="518" fill="#151515"/>
<use href="#sb" x="433.3" y="518" fill="#151515"/>
<use href="#sb" x="436.4" y="518" fill="#151515"/>
<use href="#sb" x="430.2" y="551.3" fill="#151515"/>
<use href="#sb" x="433.3" y="551.3" fill="#151515"/>
<use href="#sb" x="436.4" y="551.3" fill="#151515"/>
<use href="#sb" x="439.75" y="533" fill="#151515"/>
<use href="#sb" x="442.85" y="533" fill="#151515"/>
<use href="#sb" x="465.8" y="517.5" fill="#151515"/>
<rect x="261.5" y="651.7" width="100.5" height="14.5" fill="#ececee"/>
<rect x="262.8" y="653" width="97.9" height="11.9" fill="none" stroke="#fff" stroke-width="0.8" opacity="0.8"/>
<text x="311.3" y="662.75" font-size="10.5" text-anchor="middle" fill="#1a1a1a" font-weight="normal" textLength="60" lengthAdjust="spacingAndGlyphs">Engraftment</text>
<rect x="362" y="651.7" width="71.2" height="14.5" fill="#dcdcde"/>
<rect x="363.3" y="653" width="68.6" height="11.9" fill="none" stroke="#fff" stroke-width="0.8" opacity="0.8"/>
<text x="397.5" y="662.75" font-size="10.5" text-anchor="middle" fill="#1a1a1a" font-weight="normal" textLength="48" lengthAdjust="spacingAndGlyphs">Treatment</text>
<rect x="433.2" y="651.7" width="43.8" height="14.5" fill="#c3c3c7"/>
<rect x="434.5" y="653" width="41.2" height="11.9" fill="none" stroke="#fff" stroke-width="0.8" opacity="0.8"/>
<text x="455.3" y="662.75" font-size="10.5" text-anchor="middle" fill="#1a1a1a" font-weight="normal" textLength="24.5" lengthAdjust="spacingAndGlyphs">W/W</text>
<rect x="261.5" y="651.7" width="215.5" height="14.5" fill="none" stroke="#222" stroke-width="1.4"/>
<line x1="362" y1="651.7" x2="362" y2="666.2" stroke="#222" stroke-width="1.4"/>
<line x1="433.2" y1="651.7" x2="433.2" y2="666.2" stroke="#222" stroke-width="1.4"/>
<line x1="256.8" y1="692" x2="261.5" y2="692" stroke="#111" stroke-width="1.3"/>
<text x="253.5" y="695.5" font-size="11.5" text-anchor="end" fill="#1a1a1a" font-weight="normal">1.5</text>
<line x1="256.8" y1="720.8" x2="261.5" y2="720.8" stroke="#111" stroke-width="1.3"/>
<text x="253.5" y="724.3" font-size="11.5" text-anchor="end" fill="#1a1a1a" font-weight="normal">1.2</text>
<line x1="256.8" y1="749.7" x2="261.5" y2="749.7" stroke="#111" stroke-width="1.3"/>
<text x="253.5" y="753.2" font-size="11.5" text-anchor="end" fill="#1a1a1a" font-weight="normal">0.9</text>
<line x1="256.8" y1="778.5" x2="261.5" y2="778.5" stroke="#111" stroke-width="1.3"/>
<text x="253.5" y="782" font-size="11.5" text-anchor="end" fill="#1a1a1a" font-weight="normal">0.6</text>
<line x1="256.8" y1="807.4" x2="261.5" y2="807.4" stroke="#111" stroke-width="1.3"/>
<text x="253.5" y="810.9" font-size="11.5" text-anchor="end" fill="#1a1a1a" font-weight="normal">0.3</text>
<line x1="256.8" y1="836.2" x2="261.5" y2="836.2" stroke="#111" stroke-width="1.3"/>
<text x="253.5" y="839.7" font-size="11.5" text-anchor="end" fill="#1a1a1a" font-weight="normal">0</text>
<line x1="262" y1="836.2" x2="262" y2="840.7" stroke="#111" stroke-width="1.4"/>
<text x="262" y="852.7" font-size="11.5" text-anchor="middle" fill="#1a1a1a" font-weight="normal">0</text>
<line x1="300" y1="836.2" x2="300" y2="840.7" stroke="#111" stroke-width="1.4"/>
<text x="300" y="852.7" font-size="11.5" text-anchor="middle" fill="#1a1a1a" font-weight="normal">7</text>
<line x1="331.3" y1="836.2" x2="331.3" y2="840.7" stroke="#111" stroke-width="1.4"/>
<text x="331.3" y="852.7" font-size="11.5" text-anchor="middle" fill="#1a1a1a" font-weight="normal">13</text>
<line x1="356.8" y1="836.2" x2="356.8" y2="840.7" stroke="#111" stroke-width="1.4"/>
<text x="356.8" y="852.7" font-size="11.5" text-anchor="middle" fill="#1a1a1a" font-weight="normal">18</text>
<line x1="397.5" y1="836.2" x2="397.5" y2="840.7" stroke="#111" stroke-width="1.4"/>
<text x="397.5" y="852.7" font-size="11.5" text-anchor="middle" fill="#1a1a1a" font-weight="normal">26</text>
<line x1="444" y1="836.2" x2="444" y2="840.7" stroke="#111" stroke-width="1.4"/>
<text x="444" y="852.7" font-size="11.5" text-anchor="middle" fill="#1a1a1a" font-weight="normal">35</text>
<line x1="477.8" y1="836.2" x2="477.8" y2="840.7" stroke="#111" stroke-width="1.4"/>
<text x="477.8" y="852.7" font-size="11.5" text-anchor="middle" fill="#1a1a1a" font-weight="normal">41</text>
<text x="488.6" y="852.7" font-size="11.5" text-anchor="start" fill="#1a1a1a" font-weight="normal" textLength="22.6" lengthAdjust="spacingAndGlyphs">Days</text>
<text transform="translate(231.9,761.8) rotate(-90)" font-size="12.5" text-anchor="middle" fill="#1a1a1a" textLength="117.5" lengthAdjust="spacingAndGlyphs">Tumor mass volume (cm<tspan font-size="8.6" dy="-4.6">3</tspan><tspan dy="4.6">)</tspan></text>
<line x1="268.8" y1="701.5" x2="284.3" y2="701.5" stroke="#1f3d7a" stroke-width="1.6"/>
<circle cx="276.5" cy="701.5" r="2.2" fill="#1f3d7a"/>
<text x="288.3" y="705.1" font-size="11" text-anchor="start" fill="#1a1a1a" font-weight="normal" textLength="16.5" lengthAdjust="spacingAndGlyphs">Veh</text>
<line x1="268.8" y1="716" x2="284.3" y2="716" stroke="#9e0029" stroke-width="1.6"/>
<rect x="274.2" y="713.7" width="4.6" height="4.6" fill="#9e0029"/>
<text x="288.3" y="719.6" font-size="11" text-anchor="start" fill="#1a1a1a" font-weight="normal" textLength="17" lengthAdjust="spacingAndGlyphs">Duv</text>
<line x1="268.8" y1="730.8" x2="284.3" y2="730.8" stroke="#62a936" stroke-width="1.6"/>
<polygon points="276.5,728.4 274.1,732.6 278.9,732.6" fill="#62a936"/>
<text x="288.3" y="734.4" font-size="11" text-anchor="start" fill="#1a1a1a" font-weight="normal" textLength="16.5" lengthAdjust="spacingAndGlyphs">Ven</text>
<line x1="268.8" y1="745" x2="284.3" y2="745" stroke="#404759" stroke-width="1.6"/>
<polygon points="276.5,747.4 274.1,743.2 278.9,743.2" fill="#404759"/>
<text x="288.3" y="748.6" font-size="11" text-anchor="start" fill="#1a1a1a" font-weight="normal" textLength="37.5" lengthAdjust="spacingAndGlyphs">Duv/Ven</text>
<line x1="261.5" y1="688.8" x2="261.5" y2="836.8" stroke="#111" stroke-width="1.5"/>
<line x1="260.8" y1="836.2" x2="481.5" y2="836.2" stroke="#111" stroke-width="1.5"/>
<clipPath id="c836"><rect x="261.5" y="0" width="230" height="836.2"/></clipPath>
<g>
<line x1="418.1" y1="772" x2="418.1" y2="789" stroke="#404759" stroke-width="1.25"/>
<line x1="416.05" y1="772" x2="420.15" y2="772" stroke="#404759" stroke-width="1.45"/>
<line x1="416.05" y1="789" x2="420.15" y2="789" stroke="#404759" stroke-width="1.45"/>
<line x1="433.5" y1="760" x2="433.5" y2="777.2" stroke="#404759" stroke-width="1.25"/>
<line x1="431.45" y1="760" x2="435.55" y2="760" stroke="#404759" stroke-width="1.45"/>
<line x1="431.45" y1="777.2" x2="435.55" y2="777.2" stroke="#404759" stroke-width="1.45"/>
<line x1="443.8" y1="753.4" x2="443.8" y2="774.4" stroke="#404759" stroke-width="1.25"/>
<line x1="441.75" y1="753.4" x2="445.85" y2="753.4" stroke="#404759" stroke-width="1.45"/>
<line x1="441.75" y1="774.4" x2="445.85" y2="774.4" stroke="#404759" stroke-width="1.45"/>
<line x1="449.2" y1="740" x2="449.2" y2="765.1" stroke="#404759" stroke-width="1.25"/>
<line x1="447.15" y1="740" x2="451.25" y2="740" stroke="#404759" stroke-width="1.45"/>
<line x1="447.15" y1="765.1" x2="451.25" y2="765.1" stroke="#404759" stroke-width="1.45"/>
<line x1="469.4" y1="742.7" x2="469.4" y2="753.5" stroke="#404759" stroke-width="1.25"/>
<line x1="467.35" y1="742.7" x2="471.45" y2="742.7" stroke="#404759" stroke-width="1.45"/>
<line x1="467.35" y1="753.5" x2="471.45" y2="753.5" stroke="#404759" stroke-width="1.45"/>
<line x1="474.8" y1="735.6" x2="474.8" y2="772" stroke="#404759" stroke-width="1.25"/>
<line x1="472.75" y1="735.6" x2="476.85" y2="735.6" stroke="#404759" stroke-width="1.45"/>
<line x1="472.75" y1="772" x2="476.85" y2="772" stroke="#404759" stroke-width="1.45"/>
<polyline points="263.3,836.2 300,836.2 331.3,833.8 356.8,831.3 381.5,820 397.5,816.3 418.1,780.8 433.5,768.3 443.8,763.5 449.2,751.3 469.4,748 474.8,753.8" fill="none" stroke="#404759" stroke-width="1.9" stroke-linejoin="round"/>
<polygon points="263.3,838.6 260.9,834.4 265.7,834.4" fill="#404759"/>
<polygon points="300,838.6 297.6,834.4 302.4,834.4" fill="#404759"/>
<polygon points="331.3,836.2 328.9,832 333.7,832" fill="#404759"/>
<polygon points="356.8,833.7 354.4,829.5 359.2,829.5" fill="#404759"/>
<polygon points="381.5,822.4 379.1,818.2 383.9,818.2" fill="#404759"/>
<polygon points="397.5,818.7 395.1,814.5 399.9,814.5" fill="#404759"/>
<polygon points="418.1,783.2 415.7,779 420.5,779" fill="#404759"/>
<polygon points="433.5,770.7 431.1,766.5 435.9,766.5" fill="#404759"/>
<polygon points="443.8,765.9 441.4,761.7 446.2,761.7" fill="#404759"/>
<polygon points="449.2,753.7 446.8,749.5 451.6,749.5" fill="#404759"/>
<polygon points="469.4,750.4 467,746.2 471.8,746.2" fill="#404759"/>
<polygon points="474.8,756.2 472.4,752 477.2,752" fill="#404759"/>
<line x1="418.1" y1="763.5" x2="418.1" y2="779" stroke="#62a936" stroke-width="1.25"/>
<line x1="416.05" y1="763.5" x2="420.15" y2="763.5" stroke="#62a936" stroke-width="1.45"/>
<line x1="416.05" y1="779" x2="420.15" y2="779" stroke="#62a936" stroke-width="1.45"/>
<polyline points="263.3,836.2 300,836.2 331.3,833.8 356.8,831.3 381.5,820 397.5,816.3 418.1,771.2 433.5,762.5 443.8,728.8 449.2,725" fill="none" stroke="#62a936" stroke-width="1.9" stroke-linejoin="round"/>
<polygon points="263.3,833.8 260.9,838 265.7,838" fill="#62a936"/>
<polygon points="300,833.8 297.6,838 302.4,838" fill="#62a936"/>
<polygon points="331.3,831.4 328.9,835.6 333.7,835.6" fill="#62a936"/>
<polygon points="356.8,828.9 354.4,833.1 359.2,833.1" fill="#62a936"/>
<polygon points="381.5,817.6 379.1,821.8 383.9,821.8" fill="#62a936"/>
<polygon points="397.5,813.9 395.1,818.1 399.9,818.1" fill="#62a936"/>
<polygon points="418.1,768.8 415.7,773 420.5,773" fill="#62a936"/>
<polygon points="433.5,760.1 431.1,764.3 435.9,764.3" fill="#62a936"/>
<polygon points="443.8,726.4 441.4,730.6 446.2,730.6" fill="#62a936"/>
<polygon points="449.2,722.6 446.8,726.8 451.6,726.8" fill="#62a936"/>
<line x1="418.1" y1="770" x2="418.1" y2="784" stroke="#9e0029" stroke-width="1.25"/>
<line x1="416.05" y1="770" x2="420.15" y2="770" stroke="#9e0029" stroke-width="1.45"/>
<line x1="416.05" y1="784" x2="420.15" y2="784" stroke="#9e0029" stroke-width="1.45"/>
<line x1="433.5" y1="754" x2="433.5" y2="774.6" stroke="#9e0029" stroke-width="1.25"/>
<line x1="431.45" y1="754" x2="435.55" y2="754" stroke="#9e0029" stroke-width="1.45"/>
<line x1="431.45" y1="774.6" x2="435.55" y2="774.6" stroke="#9e0029" stroke-width="1.45"/>
<line x1="443.8" y1="720.4" x2="443.8" y2="733" stroke="#9e0029" stroke-width="1.25"/>
<line x1="441.75" y1="720.4" x2="445.85" y2="720.4" stroke="#9e0029" stroke-width="1.45"/>
<line x1="441.75" y1="733" x2="445.85" y2="733" stroke="#9e0029" stroke-width="1.45"/>
<line x1="449.2" y1="714.8" x2="449.2" y2="735.6" stroke="#9e0029" stroke-width="1.25"/>
<line x1="447.15" y1="714.8" x2="451.25" y2="714.8" stroke="#9e0029" stroke-width="1.45"/>
<line x1="447.15" y1="735.6" x2="451.25" y2="735.6" stroke="#9e0029" stroke-width="1.45"/>
<polyline points="263.3,836.2 300,836.2 331.3,833.8 356.8,831.3 381.5,821.3 397.5,816.3 418.1,777 433.5,764.4 443.8,727 449.2,724" fill="none" stroke="#9e0029" stroke-width="1.9" stroke-linejoin="round"/>
<rect x="261" y="833.9" width="4.6" height="4.6" fill="#9e0029"/>
<rect x="297.7" y="833.9" width="4.6" height="4.6" fill="#9e0029"/>
<rect x="329" y="831.5" width="4.6" height="4.6" fill="#9e0029"/>
<rect x="354.5" y="829" width="4.6" height="4.6" fill="#9e0029"/>
<rect x="379.2" y="819" width="4.6" height="4.6" fill="#9e0029"/>
<rect x="395.2" y="814" width="4.6" height="4.6" fill="#9e0029"/>
<rect x="415.8" y="774.7" width="4.6" height="4.6" fill="#9e0029"/>
<rect x="431.2" y="762.1" width="4.6" height="4.6" fill="#9e0029"/>
<rect x="441.5" y="724.7" width="4.6" height="4.6" fill="#9e0029"/>
<rect x="446.9" y="721.7" width="4.6" height="4.6" fill="#9e0029"/>
<line x1="418.1" y1="766" x2="418.1" y2="781" stroke="#1f3d7a" stroke-width="1.25"/>
<line x1="416.05" y1="766" x2="420.15" y2="766" stroke="#1f3d7a" stroke-width="1.45"/>
<line x1="416.05" y1="781" x2="420.15" y2="781" stroke="#1f3d7a" stroke-width="1.45"/>
<line x1="433.5" y1="747.3" x2="433.5" y2="763" stroke="#1f3d7a" stroke-width="1.25"/>
<line x1="431.45" y1="747.3" x2="435.55" y2="747.3" stroke="#1f3d7a" stroke-width="1.45"/>
<line x1="431.45" y1="763" x2="435.55" y2="763" stroke="#1f3d7a" stroke-width="1.45"/>
<line x1="443.8" y1="730" x2="443.8" y2="758.3" stroke="#1f3d7a" stroke-width="1.25"/>
<line x1="441.75" y1="730" x2="445.85" y2="730" stroke="#1f3d7a" stroke-width="1.45"/>
<line x1="441.75" y1="758.3" x2="445.85" y2="758.3" stroke="#1f3d7a" stroke-width="1.45"/>
<line x1="449.2" y1="712.4" x2="449.2" y2="738.9" stroke="#1f3d7a" stroke-width="1.25"/>
<line x1="447.15" y1="712.4" x2="451.25" y2="712.4" stroke="#1f3d7a" stroke-width="1.45"/>
<line x1="447.15" y1="738.9" x2="451.25" y2="738.9" stroke="#1f3d7a" stroke-width="1.45"/>
<polyline points="263.3,836.2 300,836.2 331.3,833.8 356.8,831.3 381.5,819.4 397.5,816.3 418.1,773.7 433.5,755.2 443.8,742.3 449.2,725" fill="none" stroke="#1f3d7a" stroke-width="1.9" stroke-linejoin="round"/>
<circle cx="263.3" cy="836.2" r="2.2" fill="#1f3d7a"/>
<circle cx="300" cy="836.2" r="2.2" fill="#1f3d7a"/>
<circle cx="331.3" cy="833.8" r="2.2" fill="#1f3d7a"/>
<circle cx="356.8" cy="831.3" r="2.2" fill="#1f3d7a"/>
<circle cx="381.5" cy="819.4" r="2.2" fill="#1f3d7a"/>
<circle cx="397.5" cy="816.3" r="2.2" fill="#1f3d7a"/>
<circle cx="418.1" cy="773.7" r="2.2" fill="#1f3d7a"/>
<circle cx="433.5" cy="755.2" r="2.2" fill="#1f3d7a"/>
<circle cx="443.8" cy="742.3" r="2.2" fill="#1f3d7a"/>
<circle cx="449.2" cy="725" r="2.2" fill="#1f3d7a"/>
</g>
<rect x="261.5" y="859.4" width="136.7" height="15.4" fill="#ececee"/>
<rect x="262.8" y="860.7" width="134.1" height="12.8" fill="none" stroke="#fff" stroke-width="0.8" opacity="0.8"/>
<text x="329.7" y="870.9" font-size="10.5" text-anchor="middle" fill="#1a1a1a" font-weight="normal" textLength="60" lengthAdjust="spacingAndGlyphs">Engraftment</text>
<rect x="398.2" y="859.4" width="46.4" height="15.4" fill="#dcdcde"/>
<rect x="399.5" y="860.7" width="43.8" height="12.8" fill="none" stroke="#fff" stroke-width="0.8" opacity="0.8"/>
<text x="421.6" y="870.9" font-size="10.5" text-anchor="middle" fill="#1a1a1a" font-weight="normal" textLength="12" lengthAdjust="spacingAndGlyphs">Tx</text>
<rect x="444.6" y="859.4" width="32.6" height="15.4" fill="#c3c3c7"/>
<rect x="445.9" y="860.7" width="30" height="12.8" fill="none" stroke="#fff" stroke-width="0.8" opacity="0.8"/>
<text x="460.5" y="870.9" font-size="10.5" text-anchor="middle" fill="#1a1a1a" font-weight="normal" textLength="24.5" lengthAdjust="spacingAndGlyphs">W/W</text>
<rect x="261.5" y="859.4" width="215.7" height="15.4" fill="none" stroke="#222" stroke-width="1.4"/>
<line x1="398.2" y1="859.4" x2="398.2" y2="874.8" stroke="#222" stroke-width="1.4"/>
<line x1="444.6" y1="859.4" x2="444.6" y2="874.8" stroke="#222" stroke-width="1.4"/>
<rect x="0.75" y="0.75" width="518.5" height="882.5" fill="none" stroke="#000" stroke-width="1.5"/>
</svg>
</body></html>
